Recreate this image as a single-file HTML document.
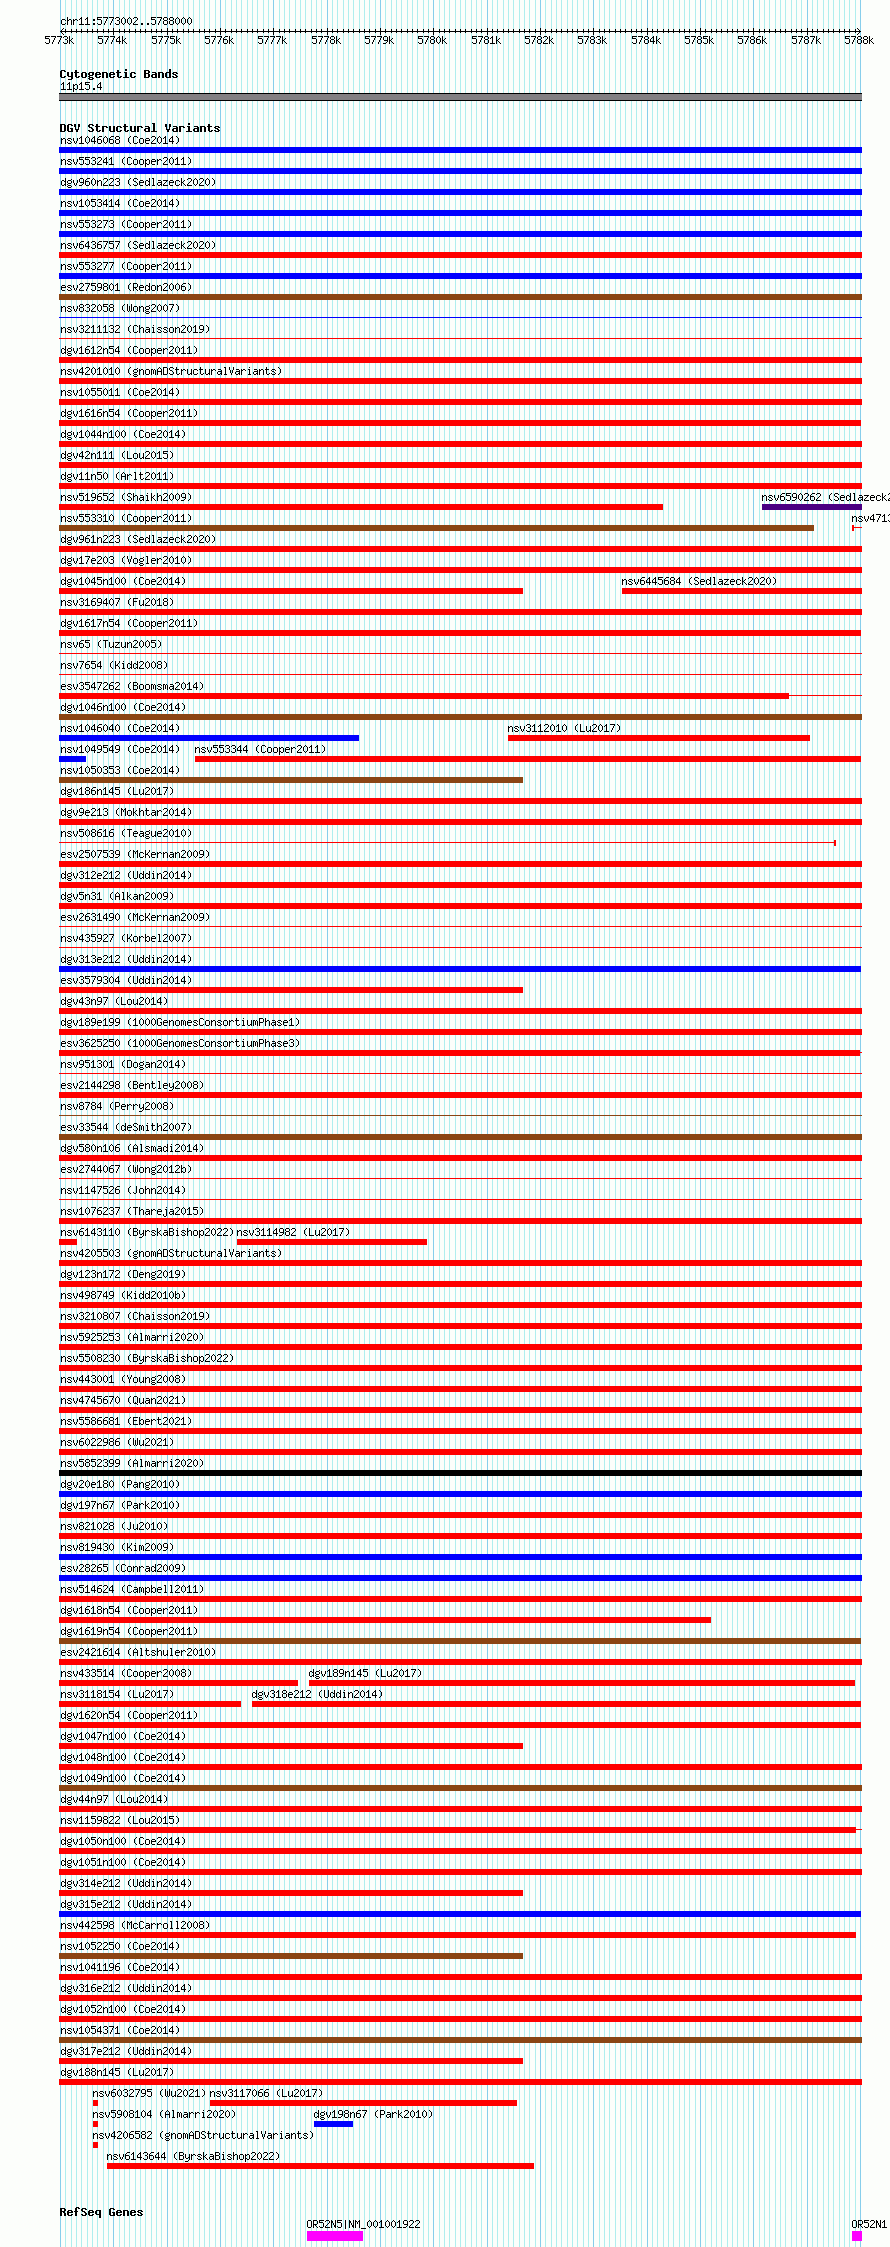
<!DOCTYPE html><html><head><meta charset="utf-8"><style>
html,body{margin:0;padding:0;background:#fcfefb;width:890px;height:2247px;overflow:hidden}
#c{position:relative;width:890px;height:2247px;overflow:hidden;background:#fcfefb}
#c div{position:absolute}
.g{top:0;width:1px;height:2247px;background:#afeeee}
.G{top:0;width:1px;height:2247px;background:#87ceeb}
.t{font-family:"Liberation Mono",monospace;font-size:12px;line-height:12px;letter-spacing:-1.2px;white-space:pre;color:#000;will-change:transform}
.b{font-family:"Liberation Mono",monospace;font-weight:bold;font-size:12px;line-height:12px;letter-spacing:-0.2px;white-space:pre;color:#000;will-change:transform}
</style></head><body><div id="c">
<div class="G" style="left:60px"></div>
<div class="g" style="left:65px"></div>
<div class="g" style="left:71px"></div>
<div class="g" style="left:76px"></div>
<div class="g" style="left:81px"></div>
<div class="g" style="left:87px"></div>
<div class="g" style="left:92px"></div>
<div class="g" style="left:97px"></div>
<div class="g" style="left:103px"></div>
<div class="g" style="left:108px"></div>
<div class="G" style="left:113px"></div>
<div class="g" style="left:119px"></div>
<div class="g" style="left:124px"></div>
<div class="g" style="left:129px"></div>
<div class="g" style="left:135px"></div>
<div class="g" style="left:140px"></div>
<div class="g" style="left:145px"></div>
<div class="g" style="left:151px"></div>
<div class="g" style="left:156px"></div>
<div class="g" style="left:161px"></div>
<div class="G" style="left:167px"></div>
<div class="g" style="left:172px"></div>
<div class="g" style="left:177px"></div>
<div class="g" style="left:183px"></div>
<div class="g" style="left:188px"></div>
<div class="g" style="left:193px"></div>
<div class="g" style="left:199px"></div>
<div class="g" style="left:204px"></div>
<div class="g" style="left:209px"></div>
<div class="g" style="left:215px"></div>
<div class="G" style="left:220px"></div>
<div class="g" style="left:225px"></div>
<div class="g" style="left:231px"></div>
<div class="g" style="left:236px"></div>
<div class="g" style="left:241px"></div>
<div class="g" style="left:247px"></div>
<div class="g" style="left:252px"></div>
<div class="g" style="left:257px"></div>
<div class="g" style="left:263px"></div>
<div class="g" style="left:268px"></div>
<div class="G" style="left:273px"></div>
<div class="g" style="left:279px"></div>
<div class="g" style="left:284px"></div>
<div class="g" style="left:289px"></div>
<div class="g" style="left:295px"></div>
<div class="g" style="left:300px"></div>
<div class="g" style="left:305px"></div>
<div class="g" style="left:311px"></div>
<div class="g" style="left:316px"></div>
<div class="g" style="left:321px"></div>
<div class="G" style="left:327px"></div>
<div class="g" style="left:332px"></div>
<div class="g" style="left:337px"></div>
<div class="g" style="left:343px"></div>
<div class="g" style="left:348px"></div>
<div class="g" style="left:353px"></div>
<div class="g" style="left:359px"></div>
<div class="g" style="left:364px"></div>
<div class="g" style="left:369px"></div>
<div class="g" style="left:375px"></div>
<div class="G" style="left:380px"></div>
<div class="g" style="left:385px"></div>
<div class="g" style="left:391px"></div>
<div class="g" style="left:396px"></div>
<div class="g" style="left:401px"></div>
<div class="g" style="left:407px"></div>
<div class="g" style="left:412px"></div>
<div class="g" style="left:417px"></div>
<div class="g" style="left:423px"></div>
<div class="g" style="left:428px"></div>
<div class="G" style="left:433px"></div>
<div class="g" style="left:439px"></div>
<div class="g" style="left:444px"></div>
<div class="g" style="left:449px"></div>
<div class="g" style="left:455px"></div>
<div class="g" style="left:460px"></div>
<div class="g" style="left:465px"></div>
<div class="g" style="left:471px"></div>
<div class="g" style="left:476px"></div>
<div class="g" style="left:481px"></div>
<div class="G" style="left:487px"></div>
<div class="g" style="left:492px"></div>
<div class="g" style="left:497px"></div>
<div class="g" style="left:503px"></div>
<div class="g" style="left:508px"></div>
<div class="g" style="left:513px"></div>
<div class="g" style="left:519px"></div>
<div class="g" style="left:524px"></div>
<div class="g" style="left:529px"></div>
<div class="g" style="left:535px"></div>
<div class="G" style="left:540px"></div>
<div class="g" style="left:545px"></div>
<div class="g" style="left:551px"></div>
<div class="g" style="left:556px"></div>
<div class="g" style="left:561px"></div>
<div class="g" style="left:567px"></div>
<div class="g" style="left:572px"></div>
<div class="g" style="left:577px"></div>
<div class="g" style="left:583px"></div>
<div class="g" style="left:588px"></div>
<div class="G" style="left:593px"></div>
<div class="g" style="left:599px"></div>
<div class="g" style="left:604px"></div>
<div class="g" style="left:609px"></div>
<div class="g" style="left:615px"></div>
<div class="g" style="left:620px"></div>
<div class="g" style="left:625px"></div>
<div class="g" style="left:631px"></div>
<div class="g" style="left:636px"></div>
<div class="g" style="left:641px"></div>
<div class="G" style="left:647px"></div>
<div class="g" style="left:652px"></div>
<div class="g" style="left:657px"></div>
<div class="g" style="left:663px"></div>
<div class="g" style="left:668px"></div>
<div class="g" style="left:673px"></div>
<div class="g" style="left:679px"></div>
<div class="g" style="left:684px"></div>
<div class="g" style="left:689px"></div>
<div class="g" style="left:695px"></div>
<div class="G" style="left:700px"></div>
<div class="g" style="left:705px"></div>
<div class="g" style="left:711px"></div>
<div class="g" style="left:716px"></div>
<div class="g" style="left:721px"></div>
<div class="g" style="left:727px"></div>
<div class="g" style="left:732px"></div>
<div class="g" style="left:737px"></div>
<div class="g" style="left:743px"></div>
<div class="g" style="left:748px"></div>
<div class="G" style="left:753px"></div>
<div class="g" style="left:759px"></div>
<div class="g" style="left:764px"></div>
<div class="g" style="left:769px"></div>
<div class="g" style="left:775px"></div>
<div class="g" style="left:780px"></div>
<div class="g" style="left:785px"></div>
<div class="g" style="left:791px"></div>
<div class="g" style="left:796px"></div>
<div class="g" style="left:801px"></div>
<div class="G" style="left:807px"></div>
<div class="g" style="left:812px"></div>
<div class="g" style="left:817px"></div>
<div class="g" style="left:823px"></div>
<div class="g" style="left:828px"></div>
<div class="g" style="left:833px"></div>
<div class="g" style="left:839px"></div>
<div class="g" style="left:844px"></div>
<div class="g" style="left:849px"></div>
<div class="g" style="left:855px"></div>
<div class="G" style="left:860px"></div>
<div style="left:60px;top:31px;width:801px;height:1px;background:#000"></div>
<div style="left:65px;top:29px;width:1px;height:4px;background:#000"></div>
<div style="left:71px;top:29px;width:1px;height:4px;background:#000"></div>
<div style="left:76px;top:29px;width:1px;height:4px;background:#000"></div>
<div style="left:81px;top:29px;width:1px;height:4px;background:#000"></div>
<div style="left:87px;top:29px;width:1px;height:4px;background:#000"></div>
<div style="left:92px;top:29px;width:1px;height:4px;background:#000"></div>
<div style="left:97px;top:29px;width:1px;height:4px;background:#000"></div>
<div style="left:103px;top:29px;width:1px;height:4px;background:#000"></div>
<div style="left:108px;top:29px;width:1px;height:4px;background:#000"></div>
<div style="left:113px;top:28px;width:1px;height:7px;background:#000"></div>
<div style="left:119px;top:29px;width:1px;height:4px;background:#000"></div>
<div style="left:124px;top:29px;width:1px;height:4px;background:#000"></div>
<div style="left:129px;top:29px;width:1px;height:4px;background:#000"></div>
<div style="left:135px;top:29px;width:1px;height:4px;background:#000"></div>
<div style="left:140px;top:29px;width:1px;height:4px;background:#000"></div>
<div style="left:145px;top:29px;width:1px;height:4px;background:#000"></div>
<div style="left:151px;top:29px;width:1px;height:4px;background:#000"></div>
<div style="left:156px;top:29px;width:1px;height:4px;background:#000"></div>
<div style="left:161px;top:29px;width:1px;height:4px;background:#000"></div>
<div style="left:167px;top:28px;width:1px;height:7px;background:#000"></div>
<div style="left:172px;top:29px;width:1px;height:4px;background:#000"></div>
<div style="left:177px;top:29px;width:1px;height:4px;background:#000"></div>
<div style="left:183px;top:29px;width:1px;height:4px;background:#000"></div>
<div style="left:188px;top:29px;width:1px;height:4px;background:#000"></div>
<div style="left:193px;top:29px;width:1px;height:4px;background:#000"></div>
<div style="left:199px;top:29px;width:1px;height:4px;background:#000"></div>
<div style="left:204px;top:29px;width:1px;height:4px;background:#000"></div>
<div style="left:209px;top:29px;width:1px;height:4px;background:#000"></div>
<div style="left:215px;top:29px;width:1px;height:4px;background:#000"></div>
<div style="left:220px;top:28px;width:1px;height:7px;background:#000"></div>
<div style="left:225px;top:29px;width:1px;height:4px;background:#000"></div>
<div style="left:231px;top:29px;width:1px;height:4px;background:#000"></div>
<div style="left:236px;top:29px;width:1px;height:4px;background:#000"></div>
<div style="left:241px;top:29px;width:1px;height:4px;background:#000"></div>
<div style="left:247px;top:29px;width:1px;height:4px;background:#000"></div>
<div style="left:252px;top:29px;width:1px;height:4px;background:#000"></div>
<div style="left:257px;top:29px;width:1px;height:4px;background:#000"></div>
<div style="left:263px;top:29px;width:1px;height:4px;background:#000"></div>
<div style="left:268px;top:29px;width:1px;height:4px;background:#000"></div>
<div style="left:273px;top:28px;width:1px;height:7px;background:#000"></div>
<div style="left:279px;top:29px;width:1px;height:4px;background:#000"></div>
<div style="left:284px;top:29px;width:1px;height:4px;background:#000"></div>
<div style="left:289px;top:29px;width:1px;height:4px;background:#000"></div>
<div style="left:295px;top:29px;width:1px;height:4px;background:#000"></div>
<div style="left:300px;top:29px;width:1px;height:4px;background:#000"></div>
<div style="left:305px;top:29px;width:1px;height:4px;background:#000"></div>
<div style="left:311px;top:29px;width:1px;height:4px;background:#000"></div>
<div style="left:316px;top:29px;width:1px;height:4px;background:#000"></div>
<div style="left:321px;top:29px;width:1px;height:4px;background:#000"></div>
<div style="left:327px;top:28px;width:1px;height:7px;background:#000"></div>
<div style="left:332px;top:29px;width:1px;height:4px;background:#000"></div>
<div style="left:337px;top:29px;width:1px;height:4px;background:#000"></div>
<div style="left:343px;top:29px;width:1px;height:4px;background:#000"></div>
<div style="left:348px;top:29px;width:1px;height:4px;background:#000"></div>
<div style="left:353px;top:29px;width:1px;height:4px;background:#000"></div>
<div style="left:359px;top:29px;width:1px;height:4px;background:#000"></div>
<div style="left:364px;top:29px;width:1px;height:4px;background:#000"></div>
<div style="left:369px;top:29px;width:1px;height:4px;background:#000"></div>
<div style="left:375px;top:29px;width:1px;height:4px;background:#000"></div>
<div style="left:380px;top:28px;width:1px;height:7px;background:#000"></div>
<div style="left:385px;top:29px;width:1px;height:4px;background:#000"></div>
<div style="left:391px;top:29px;width:1px;height:4px;background:#000"></div>
<div style="left:396px;top:29px;width:1px;height:4px;background:#000"></div>
<div style="left:401px;top:29px;width:1px;height:4px;background:#000"></div>
<div style="left:407px;top:29px;width:1px;height:4px;background:#000"></div>
<div style="left:412px;top:29px;width:1px;height:4px;background:#000"></div>
<div style="left:417px;top:29px;width:1px;height:4px;background:#000"></div>
<div style="left:423px;top:29px;width:1px;height:4px;background:#000"></div>
<div style="left:428px;top:29px;width:1px;height:4px;background:#000"></div>
<div style="left:433px;top:28px;width:1px;height:7px;background:#000"></div>
<div style="left:439px;top:29px;width:1px;height:4px;background:#000"></div>
<div style="left:444px;top:29px;width:1px;height:4px;background:#000"></div>
<div style="left:449px;top:29px;width:1px;height:4px;background:#000"></div>
<div style="left:455px;top:29px;width:1px;height:4px;background:#000"></div>
<div style="left:460px;top:29px;width:1px;height:4px;background:#000"></div>
<div style="left:465px;top:29px;width:1px;height:4px;background:#000"></div>
<div style="left:471px;top:29px;width:1px;height:4px;background:#000"></div>
<div style="left:476px;top:29px;width:1px;height:4px;background:#000"></div>
<div style="left:481px;top:29px;width:1px;height:4px;background:#000"></div>
<div style="left:487px;top:28px;width:1px;height:7px;background:#000"></div>
<div style="left:492px;top:29px;width:1px;height:4px;background:#000"></div>
<div style="left:497px;top:29px;width:1px;height:4px;background:#000"></div>
<div style="left:503px;top:29px;width:1px;height:4px;background:#000"></div>
<div style="left:508px;top:29px;width:1px;height:4px;background:#000"></div>
<div style="left:513px;top:29px;width:1px;height:4px;background:#000"></div>
<div style="left:519px;top:29px;width:1px;height:4px;background:#000"></div>
<div style="left:524px;top:29px;width:1px;height:4px;background:#000"></div>
<div style="left:529px;top:29px;width:1px;height:4px;background:#000"></div>
<div style="left:535px;top:29px;width:1px;height:4px;background:#000"></div>
<div style="left:540px;top:28px;width:1px;height:7px;background:#000"></div>
<div style="left:545px;top:29px;width:1px;height:4px;background:#000"></div>
<div style="left:551px;top:29px;width:1px;height:4px;background:#000"></div>
<div style="left:556px;top:29px;width:1px;height:4px;background:#000"></div>
<div style="left:561px;top:29px;width:1px;height:4px;background:#000"></div>
<div style="left:567px;top:29px;width:1px;height:4px;background:#000"></div>
<div style="left:572px;top:29px;width:1px;height:4px;background:#000"></div>
<div style="left:577px;top:29px;width:1px;height:4px;background:#000"></div>
<div style="left:583px;top:29px;width:1px;height:4px;background:#000"></div>
<div style="left:588px;top:29px;width:1px;height:4px;background:#000"></div>
<div style="left:593px;top:28px;width:1px;height:7px;background:#000"></div>
<div style="left:599px;top:29px;width:1px;height:4px;background:#000"></div>
<div style="left:604px;top:29px;width:1px;height:4px;background:#000"></div>
<div style="left:609px;top:29px;width:1px;height:4px;background:#000"></div>
<div style="left:615px;top:29px;width:1px;height:4px;background:#000"></div>
<div style="left:620px;top:29px;width:1px;height:4px;background:#000"></div>
<div style="left:625px;top:29px;width:1px;height:4px;background:#000"></div>
<div style="left:631px;top:29px;width:1px;height:4px;background:#000"></div>
<div style="left:636px;top:29px;width:1px;height:4px;background:#000"></div>
<div style="left:641px;top:29px;width:1px;height:4px;background:#000"></div>
<div style="left:647px;top:28px;width:1px;height:7px;background:#000"></div>
<div style="left:652px;top:29px;width:1px;height:4px;background:#000"></div>
<div style="left:657px;top:29px;width:1px;height:4px;background:#000"></div>
<div style="left:663px;top:29px;width:1px;height:4px;background:#000"></div>
<div style="left:668px;top:29px;width:1px;height:4px;background:#000"></div>
<div style="left:673px;top:29px;width:1px;height:4px;background:#000"></div>
<div style="left:679px;top:29px;width:1px;height:4px;background:#000"></div>
<div style="left:684px;top:29px;width:1px;height:4px;background:#000"></div>
<div style="left:689px;top:29px;width:1px;height:4px;background:#000"></div>
<div style="left:695px;top:29px;width:1px;height:4px;background:#000"></div>
<div style="left:700px;top:28px;width:1px;height:7px;background:#000"></div>
<div style="left:705px;top:29px;width:1px;height:4px;background:#000"></div>
<div style="left:711px;top:29px;width:1px;height:4px;background:#000"></div>
<div style="left:716px;top:29px;width:1px;height:4px;background:#000"></div>
<div style="left:721px;top:29px;width:1px;height:4px;background:#000"></div>
<div style="left:727px;top:29px;width:1px;height:4px;background:#000"></div>
<div style="left:732px;top:29px;width:1px;height:4px;background:#000"></div>
<div style="left:737px;top:29px;width:1px;height:4px;background:#000"></div>
<div style="left:743px;top:29px;width:1px;height:4px;background:#000"></div>
<div style="left:748px;top:29px;width:1px;height:4px;background:#000"></div>
<div style="left:753px;top:28px;width:1px;height:7px;background:#000"></div>
<div style="left:759px;top:29px;width:1px;height:4px;background:#000"></div>
<div style="left:764px;top:29px;width:1px;height:4px;background:#000"></div>
<div style="left:769px;top:29px;width:1px;height:4px;background:#000"></div>
<div style="left:775px;top:29px;width:1px;height:4px;background:#000"></div>
<div style="left:780px;top:29px;width:1px;height:4px;background:#000"></div>
<div style="left:785px;top:29px;width:1px;height:4px;background:#000"></div>
<div style="left:791px;top:29px;width:1px;height:4px;background:#000"></div>
<div style="left:796px;top:29px;width:1px;height:4px;background:#000"></div>
<div style="left:801px;top:29px;width:1px;height:4px;background:#000"></div>
<div style="left:807px;top:28px;width:1px;height:7px;background:#000"></div>
<div style="left:812px;top:29px;width:1px;height:4px;background:#000"></div>
<div style="left:817px;top:29px;width:1px;height:4px;background:#000"></div>
<div style="left:823px;top:29px;width:1px;height:4px;background:#000"></div>
<div style="left:828px;top:29px;width:1px;height:4px;background:#000"></div>
<div style="left:833px;top:29px;width:1px;height:4px;background:#000"></div>
<div style="left:839px;top:29px;width:1px;height:4px;background:#000"></div>
<div style="left:844px;top:29px;width:1px;height:4px;background:#000"></div>
<div style="left:849px;top:29px;width:1px;height:4px;background:#000"></div>
<div style="left:855px;top:29px;width:1px;height:4px;background:#000"></div>
<div style="left:61px;top:30px;width:1px;height:1px;background:#000"></div>
<div style="left:62px;top:29px;width:1px;height:1px;background:#000"></div>
<div style="left:63px;top:28px;width:1px;height:1px;background:#000"></div>
<div style="left:61px;top:32px;width:1px;height:1px;background:#000"></div>
<div style="left:62px;top:33px;width:1px;height:1px;background:#000"></div>
<div style="left:63px;top:34px;width:1px;height:1px;background:#000"></div>
<div style="left:859px;top:30px;width:1px;height:1px;background:#000"></div>
<div style="left:858px;top:29px;width:1px;height:1px;background:#000"></div>
<div style="left:857px;top:28px;width:1px;height:1px;background:#000"></div>
<div style="left:859px;top:32px;width:1px;height:1px;background:#000"></div>
<div style="left:858px;top:33px;width:1px;height:1px;background:#000"></div>
<div style="left:857px;top:34px;width:1px;height:1px;background:#000"></div>
<div style="left:59px;top:93px;width:803px;height:8px;background:#000"></div>
<div style="left:59px;top:94px;width:803px;height:6px;background:#838083"></div>
<div style="left:59px;top:147px;width:803px;height:6px;background:#0000ff"></div>
<div style="left:59px;top:168px;width:803px;height:6px;background:#0000ff"></div>
<div style="left:59px;top:189px;width:803px;height:6px;background:#0000ff"></div>
<div style="left:59px;top:210px;width:803px;height:6px;background:#0000ff"></div>
<div style="left:59px;top:231px;width:803px;height:6px;background:#0000ff"></div>
<div style="left:59px;top:252px;width:803px;height:6px;background:#ff0000"></div>
<div style="left:59px;top:273px;width:803px;height:6px;background:#0000ff"></div>
<div style="left:59px;top:294px;width:803px;height:6px;background:#8b4513"></div>
<div style="left:59px;top:317px;width:803px;height:1px;background:#0000ff"></div>
<div style="left:59px;top:338px;width:803px;height:1px;background:#ff0000"></div>
<div style="left:59px;top:357px;width:803px;height:6px;background:#ff0000"></div>
<div style="left:59px;top:378px;width:803px;height:6px;background:#ff0000"></div>
<div style="left:59px;top:399px;width:803px;height:6px;background:#ff0000"></div>
<div style="left:59px;top:420px;width:802px;height:6px;background:#ff0000"></div>
<div style="left:59px;top:441px;width:803px;height:6px;background:#ff0000"></div>
<div style="left:59px;top:462px;width:803px;height:6px;background:#ff0000"></div>
<div style="left:59px;top:483px;width:803px;height:6px;background:#ff0000"></div>
<div style="left:59px;top:504px;width:604px;height:6px;background:#ff0000"></div>
<div style="left:762px;top:504px;width:100px;height:6px;background:#4b0082"></div>
<div style="left:59px;top:525px;width:755px;height:6px;background:#8b4513"></div>
<div style="left:852px;top:525px;width:2px;height:6px;background:#ff0000"></div>
<div style="left:854px;top:527px;width:8px;height:1px;background:#ff0000"></div>
<div style="left:59px;top:546px;width:803px;height:6px;background:#ff0000"></div>
<div style="left:59px;top:567px;width:803px;height:6px;background:#ff0000"></div>
<div style="left:59px;top:588px;width:464px;height:6px;background:#ff0000"></div>
<div style="left:622px;top:588px;width:240px;height:6px;background:#ff0000"></div>
<div style="left:59px;top:609px;width:803px;height:6px;background:#ff0000"></div>
<div style="left:59px;top:630px;width:802px;height:6px;background:#ff0000"></div>
<div style="left:59px;top:653px;width:803px;height:1px;background:#ff0000"></div>
<div style="left:59px;top:674px;width:803px;height:1px;background:#ff0000"></div>
<div style="left:59px;top:693px;width:730px;height:6px;background:#ff0000"></div>
<div style="left:789px;top:695px;width:73px;height:1px;background:#ff0000"></div>
<div style="left:59px;top:714px;width:803px;height:6px;background:#8b4513"></div>
<div style="left:59px;top:735px;width:300px;height:6px;background:#0000ff"></div>
<div style="left:508px;top:735px;width:302px;height:6px;background:#ff0000"></div>
<div style="left:59px;top:756px;width:27px;height:6px;background:#0000ff"></div>
<div style="left:195px;top:756px;width:666px;height:6px;background:#ff0000"></div>
<div style="left:59px;top:777px;width:464px;height:6px;background:#8b4513"></div>
<div style="left:59px;top:798px;width:803px;height:6px;background:#ff0000"></div>
<div style="left:59px;top:819px;width:803px;height:6px;background:#ff0000"></div>
<div style="left:59px;top:842px;width:775px;height:1px;background:#ff0000"></div>
<div style="left:834px;top:840px;width:2px;height:6px;background:#ff0000"></div>
<div style="left:59px;top:861px;width:803px;height:6px;background:#ff0000"></div>
<div style="left:59px;top:882px;width:803px;height:6px;background:#ff0000"></div>
<div style="left:59px;top:903px;width:803px;height:6px;background:#ff0000"></div>
<div style="left:59px;top:926px;width:803px;height:1px;background:#ff0000"></div>
<div style="left:59px;top:947px;width:803px;height:1px;background:#ff0000"></div>
<div style="left:59px;top:966px;width:802px;height:6px;background:#0000ff"></div>
<div style="left:59px;top:987px;width:464px;height:6px;background:#ff0000"></div>
<div style="left:59px;top:1008px;width:803px;height:6px;background:#ff0000"></div>
<div style="left:59px;top:1029px;width:803px;height:6px;background:#ff0000"></div>
<div style="left:59px;top:1050px;width:801px;height:6px;background:#ff0000"></div>
<div style="left:860px;top:1052px;width:2px;height:1px;background:#ff0000"></div>
<div style="left:59px;top:1073px;width:803px;height:1px;background:#ff0000"></div>
<div style="left:59px;top:1092px;width:803px;height:6px;background:#ff0000"></div>
<div style="left:59px;top:1115px;width:803px;height:1px;background:#8b4513"></div>
<div style="left:59px;top:1134px;width:803px;height:6px;background:#8b4513"></div>
<div style="left:59px;top:1155px;width:803px;height:6px;background:#ff0000"></div>
<div style="left:59px;top:1178px;width:803px;height:1px;background:#ff0000"></div>
<div style="left:59px;top:1199px;width:803px;height:1px;background:#ff0000"></div>
<div style="left:59px;top:1218px;width:803px;height:6px;background:#ff0000"></div>
<div style="left:59px;top:1239px;width:18px;height:6px;background:#ff0000"></div>
<div style="left:237px;top:1239px;width:190px;height:6px;background:#ff0000"></div>
<div style="left:59px;top:1260px;width:803px;height:6px;background:#ff0000"></div>
<div style="left:59px;top:1281px;width:803px;height:6px;background:#ff0000"></div>
<div style="left:59px;top:1302px;width:803px;height:6px;background:#ff0000"></div>
<div style="left:59px;top:1323px;width:803px;height:6px;background:#ff0000"></div>
<div style="left:59px;top:1344px;width:803px;height:6px;background:#ff0000"></div>
<div style="left:59px;top:1365px;width:803px;height:6px;background:#ff0000"></div>
<div style="left:59px;top:1386px;width:803px;height:6px;background:#ff0000"></div>
<div style="left:59px;top:1407px;width:803px;height:6px;background:#ff0000"></div>
<div style="left:59px;top:1428px;width:803px;height:6px;background:#ff0000"></div>
<div style="left:59px;top:1449px;width:803px;height:6px;background:#ff0000"></div>
<div style="left:59px;top:1470px;width:803px;height:6px;background:#000000"></div>
<div style="left:59px;top:1491px;width:803px;height:6px;background:#0000ff"></div>
<div style="left:59px;top:1512px;width:803px;height:6px;background:#ff0000"></div>
<div style="left:59px;top:1533px;width:803px;height:6px;background:#ff0000"></div>
<div style="left:59px;top:1554px;width:803px;height:6px;background:#0000ff"></div>
<div style="left:59px;top:1575px;width:803px;height:6px;background:#0000ff"></div>
<div style="left:59px;top:1596px;width:803px;height:6px;background:#ff0000"></div>
<div style="left:59px;top:1617px;width:652px;height:6px;background:#ff0000"></div>
<div style="left:59px;top:1638px;width:802px;height:6px;background:#8b4513"></div>
<div style="left:59px;top:1659px;width:803px;height:6px;background:#ff0000"></div>
<div style="left:59px;top:1680px;width:239px;height:6px;background:#ff0000"></div>
<div style="left:309px;top:1680px;width:546px;height:6px;background:#ff0000"></div>
<div style="left:59px;top:1701px;width:182px;height:6px;background:#ff0000"></div>
<div style="left:252px;top:1701px;width:609px;height:6px;background:#ff0000"></div>
<div style="left:59px;top:1722px;width:802px;height:6px;background:#ff0000"></div>
<div style="left:59px;top:1743px;width:464px;height:6px;background:#ff0000"></div>
<div style="left:59px;top:1764px;width:803px;height:6px;background:#ff0000"></div>
<div style="left:59px;top:1785px;width:803px;height:6px;background:#8b4513"></div>
<div style="left:59px;top:1806px;width:803px;height:6px;background:#ff0000"></div>
<div style="left:59px;top:1827px;width:797px;height:6px;background:#ff0000"></div>
<div style="left:856px;top:1829px;width:6px;height:1px;background:#ff0000"></div>
<div style="left:59px;top:1848px;width:803px;height:6px;background:#ff0000"></div>
<div style="left:59px;top:1869px;width:803px;height:6px;background:#ff0000"></div>
<div style="left:59px;top:1890px;width:464px;height:6px;background:#ff0000"></div>
<div style="left:59px;top:1911px;width:802px;height:6px;background:#0000ff"></div>
<div style="left:59px;top:1932px;width:797px;height:6px;background:#ff0000"></div>
<div style="left:59px;top:1953px;width:464px;height:6px;background:#8b4513"></div>
<div style="left:59px;top:1974px;width:803px;height:6px;background:#ff0000"></div>
<div style="left:59px;top:1995px;width:803px;height:6px;background:#ff0000"></div>
<div style="left:59px;top:2016px;width:803px;height:6px;background:#ff0000"></div>
<div style="left:59px;top:2037px;width:803px;height:6px;background:#8b4513"></div>
<div style="left:59px;top:2058px;width:464px;height:6px;background:#ff0000"></div>
<div style="left:59px;top:2079px;width:803px;height:6px;background:#ff0000"></div>
<div style="left:93px;top:2100px;width:5px;height:6px;background:#ff0000"></div>
<div style="left:210px;top:2100px;width:307px;height:6px;background:#ff0000"></div>
<div style="left:93px;top:2121px;width:5px;height:6px;background:#ff0000"></div>
<div style="left:314px;top:2121px;width:39px;height:6px;background:#0000ff"></div>
<div style="left:93px;top:2142px;width:5px;height:6px;background:#ff0000"></div>
<div style="left:107px;top:2163px;width:427px;height:6px;background:#ff0000"></div>
<div style="left:307px;top:2231px;width:56px;height:10px;background:#ff00ff"></div>
<div style="left:852px;top:2231px;width:10px;height:10px;background:#ff00ff"></div>
<svg style="position:absolute;left:0;top:0" width="890" height="2247" shape-rendering="crispEdges"><defs><path id="b66" d="M0 0h5v1h-5zM0 1h2v1h-2zM4 1h2v1h-2zM0 2h2v1h-2zM4 2h2v1h-2zM0 3h5v1h-5zM0 4h2v1h-2zM4 4h2v1h-2zM0 5h2v1h-2zM4 5h2v1h-2zM0 6h2v1h-2zM4 6h2v1h-2zM0 7h5v1h-5z"/><path id="b67" d="M1 0h4v1h-4zM0 1h2v1h-2zM4 1h2v1h-2zM0 2h2v1h-2zM0 3h2v1h-2zM0 4h2v1h-2zM0 5h2v1h-2zM0 6h2v1h-2zM4 6h2v1h-2zM1 7h4v1h-4z"/><path id="b68" d="M0 0h5v1h-5zM0 1h2v1h-2zM4 1h2v1h-2zM0 2h2v1h-2zM4 2h2v1h-2zM0 3h2v1h-2zM4 3h2v1h-2zM0 4h2v1h-2zM4 4h2v1h-2zM0 5h2v1h-2zM4 5h2v1h-2zM0 6h2v1h-2zM4 6h2v1h-2zM0 7h5v1h-5z"/><path id="b71" d="M1 0h4v1h-4zM0 1h2v1h-2zM4 1h2v1h-2zM0 2h2v1h-2zM0 3h2v1h-2zM0 4h2v1h-2zM3 4h3v1h-3zM0 5h2v1h-2zM4 5h2v1h-2zM0 6h2v1h-2zM4 6h2v1h-2zM1 7h5v1h-5z"/><path id="b82" d="M0 0h5v1h-5zM0 1h2v1h-2zM4 1h2v1h-2zM0 2h2v1h-2zM4 2h2v1h-2zM0 3h5v1h-5zM0 4h2v1h-2zM3 4h2v1h-2zM0 5h2v1h-2zM4 5h2v1h-2zM0 6h2v1h-2zM4 6h2v1h-2zM0 7h2v1h-2zM4 7h2v1h-2z"/><path id="b83" d="M1 0h4v1h-4zM0 1h2v1h-2zM4 1h2v1h-2zM0 2h2v1h-2zM1 3h3v1h-3zM3 4h2v1h-2zM4 5h2v1h-2zM0 6h2v1h-2zM4 6h2v1h-2zM1 7h4v1h-4z"/><path id="b86" d="M0 0h2v1h-2zM4 0h2v1h-2zM0 1h2v1h-2zM4 1h2v1h-2zM0 2h2v1h-2zM4 2h2v1h-2zM1 3h1v1h-1zM4 3h1v1h-1zM1 4h1v1h-1zM4 4h1v1h-1zM1 5h4v1h-4zM2 6h2v1h-2zM2 7h2v1h-2z"/><path id="b97" d="M1 2h4v1h-4zM4 3h2v1h-2zM1 4h5v1h-5zM0 5h2v1h-2zM4 5h2v1h-2zM0 6h2v1h-2zM4 6h2v1h-2zM1 7h5v1h-5z"/><path id="b99" d="M1 2h4v1h-4zM0 3h2v1h-2zM4 3h2v1h-2zM0 4h2v1h-2zM0 5h2v1h-2zM0 6h2v1h-2zM4 6h2v1h-2zM1 7h4v1h-4z"/><path id="b100" d="M4 -1h2v1h-2zM4 0h2v1h-2zM4 1h2v1h-2zM1 2h5v1h-5zM0 3h2v1h-2zM4 3h2v1h-2zM0 4h2v1h-2zM4 4h2v1h-2zM0 5h2v1h-2zM4 5h2v1h-2zM0 6h2v1h-2zM4 6h2v1h-2zM1 7h5v1h-5z"/><path id="b101" d="M1 2h4v1h-4zM0 3h2v1h-2zM4 3h2v1h-2zM0 4h6v1h-6zM0 5h2v1h-2zM0 6h2v1h-2zM4 6h2v1h-2zM1 7h4v1h-4z"/><path id="b102" d="M2 -1h3v1h-3zM1 0h2v1h-2zM4 0h2v1h-2zM1 1h2v1h-2zM1 2h2v1h-2zM0 3h4v1h-4zM1 4h2v1h-2zM1 5h2v1h-2zM1 6h2v1h-2zM1 7h2v1h-2z"/><path id="b103" d="M1 2h5v1h-5zM0 3h2v1h-2zM4 3h2v1h-2zM0 4h2v1h-2zM4 4h2v1h-2zM1 5h4v1h-4zM0 6h2v1h-2zM1 7h4v1h-4zM0 8h2v1h-2zM4 8h2v1h-2zM1 9h4v1h-4z"/><path id="b105" d="M2 -1h2v1h-2zM2 0h2v1h-2zM1 2h3v1h-3zM2 3h2v1h-2zM2 4h2v1h-2zM2 5h2v1h-2zM2 6h2v1h-2zM0 7h6v1h-6z"/><path id="b108" d="M1 -1h3v1h-3zM2 0h2v1h-2zM2 1h2v1h-2zM2 2h2v1h-2zM2 3h2v1h-2zM2 4h2v1h-2zM2 5h2v1h-2zM2 6h2v1h-2zM0 7h6v1h-6z"/><path id="b110" d="M0 2h5v1h-5zM0 3h2v1h-2zM4 3h2v1h-2zM0 4h2v1h-2zM4 4h2v1h-2zM0 5h2v1h-2zM4 5h2v1h-2zM0 6h2v1h-2zM4 6h2v1h-2zM0 7h2v1h-2zM4 7h2v1h-2z"/><path id="b111" d="M1 2h4v1h-4zM0 3h2v1h-2zM4 3h2v1h-2zM0 4h2v1h-2zM4 4h2v1h-2zM0 5h2v1h-2zM4 5h2v1h-2zM0 6h2v1h-2zM4 6h2v1h-2zM1 7h4v1h-4z"/><path id="b113" d="M1 2h5v1h-5zM0 3h2v1h-2zM4 3h2v1h-2zM0 4h2v1h-2zM4 4h2v1h-2zM0 5h2v1h-2zM4 5h2v1h-2zM1 6h5v1h-5zM4 7h2v1h-2zM4 8h2v1h-2zM4 9h2v1h-2z"/><path id="b114" d="M0 2h5v1h-5zM0 3h2v1h-2zM4 3h2v1h-2zM0 4h2v1h-2zM0 5h2v1h-2zM0 6h2v1h-2zM0 7h2v1h-2z"/><path id="b115" d="M1 2h4v1h-4zM0 3h2v1h-2zM4 3h2v1h-2zM1 4h3v1h-3zM3 5h2v1h-2zM0 6h2v1h-2zM4 6h2v1h-2zM1 7h4v1h-4z"/><path id="b116" d="M1 0h2v1h-2zM1 1h2v1h-2zM0 2h5v1h-5zM1 3h2v1h-2zM1 4h2v1h-2zM1 5h2v1h-2zM1 6h2v1h-2zM4 6h2v1h-2zM2 7h3v1h-3z"/><path id="b117" d="M0 2h2v1h-2zM4 2h2v1h-2zM0 3h2v1h-2zM4 3h2v1h-2zM0 4h2v1h-2zM4 4h2v1h-2zM0 5h2v1h-2zM4 5h2v1h-2zM0 6h2v1h-2zM4 6h2v1h-2zM1 7h5v1h-5z"/><path id="b121" d="M0 2h2v1h-2zM4 2h2v1h-2zM0 3h2v1h-2zM4 3h2v1h-2zM0 4h2v1h-2zM4 4h2v1h-2zM0 5h2v1h-2zM4 5h2v1h-2zM1 6h5v1h-5zM4 7h2v1h-2zM4 8h2v1h-2zM1 9h4v1h-4z"/><path id="r40" d="M4 0h1v1h-1zM3 1h1v1h-1zM2 2h1v1h-1zM2 3h1v1h-1zM2 4h1v1h-1zM2 5h1v1h-1zM3 6h1v1h-1zM4 7h1v1h-1z"/><path id="r41" d="M2 0h1v1h-1zM3 1h1v1h-1zM4 2h1v1h-1zM4 3h1v1h-1zM4 4h1v1h-1zM4 5h1v1h-1zM3 6h1v1h-1zM2 7h1v1h-1z"/><path id="r46" d="M3 6h2v1h-2zM3 7h2v1h-2z"/><path id="r48" d="M3 0h1v1h-1zM2 1h1v1h-1zM4 1h1v1h-1zM1 2h1v1h-1zM5 2h1v1h-1zM1 3h1v1h-1zM5 3h1v1h-1zM1 4h1v1h-1zM5 4h1v1h-1zM1 5h1v1h-1zM5 5h1v1h-1zM2 6h1v1h-1zM4 6h1v1h-1zM3 7h1v1h-1z"/><path id="r49" d="M3 0h1v1h-1zM2 1h2v1h-2zM1 2h1v1h-1zM3 2h1v1h-1zM3 3h1v1h-1zM3 4h1v1h-1zM3 5h1v1h-1zM3 6h1v1h-1zM1 7h5v1h-5z"/><path id="r50" d="M2 0h3v1h-3zM1 1h1v1h-1zM5 1h1v1h-1zM5 2h1v1h-1zM4 3h1v1h-1zM3 4h1v1h-1zM2 5h1v1h-1zM1 6h1v1h-1zM1 7h5v1h-5z"/><path id="r51" d="M2 0h3v1h-3zM1 1h1v1h-1zM5 1h1v1h-1zM5 2h1v1h-1zM3 3h2v1h-2zM5 4h1v1h-1zM5 5h1v1h-1zM1 6h1v1h-1zM5 6h1v1h-1zM2 7h3v1h-3z"/><path id="r52" d="M4 0h1v1h-1zM3 1h2v1h-2zM2 2h1v1h-1zM4 2h1v1h-1zM1 3h1v1h-1zM4 3h1v1h-1zM1 4h1v1h-1zM4 4h1v1h-1zM1 5h5v1h-5zM4 6h1v1h-1zM4 7h1v1h-1z"/><path id="r53" d="M1 0h5v1h-5zM1 1h1v1h-1zM1 2h4v1h-4zM5 3h1v1h-1zM5 4h1v1h-1zM5 5h1v1h-1zM1 6h1v1h-1zM5 6h1v1h-1zM2 7h3v1h-3z"/><path id="r54" d="M3 0h3v1h-3zM2 1h1v1h-1zM1 2h1v1h-1zM1 3h4v1h-4zM1 4h1v1h-1zM5 4h1v1h-1zM1 5h1v1h-1zM5 5h1v1h-1zM1 6h1v1h-1zM5 6h1v1h-1zM2 7h3v1h-3z"/><path id="r55" d="M1 0h5v1h-5zM5 1h1v1h-1zM4 2h1v1h-1zM4 3h1v1h-1zM3 4h1v1h-1zM3 5h1v1h-1zM2 6h1v1h-1zM2 7h1v1h-1z"/><path id="r56" d="M2 0h3v1h-3zM1 1h1v1h-1zM5 1h1v1h-1zM1 2h1v1h-1zM5 2h1v1h-1zM2 3h3v1h-3zM1 4h1v1h-1zM5 4h1v1h-1zM1 5h1v1h-1zM5 5h1v1h-1zM1 6h1v1h-1zM5 6h1v1h-1zM2 7h3v1h-3z"/><path id="r57" d="M2 0h3v1h-3zM1 1h1v1h-1zM5 1h1v1h-1zM1 2h1v1h-1zM5 2h1v1h-1zM1 3h1v1h-1zM5 3h1v1h-1zM2 4h4v1h-4zM5 5h1v1h-1zM4 6h1v1h-1zM1 7h3v1h-3z"/><path id="r58" d="M3 2h2v1h-2zM3 3h2v1h-2zM3 6h2v1h-2zM3 7h2v1h-2z"/><path id="r65" d="M3 0h1v1h-1zM2 1h1v1h-1zM4 1h1v1h-1zM1 2h1v1h-1zM5 2h1v1h-1zM1 3h1v1h-1zM5 3h1v1h-1zM1 4h5v1h-5zM1 5h1v1h-1zM5 5h1v1h-1zM1 6h1v1h-1zM5 6h1v1h-1zM1 7h1v1h-1zM5 7h1v1h-1z"/><path id="r66" d="M1 0h4v1h-4zM1 1h1v1h-1zM5 1h1v1h-1zM1 2h1v1h-1zM5 2h1v1h-1zM1 3h4v1h-4zM1 4h1v1h-1zM5 4h1v1h-1zM1 5h1v1h-1zM5 5h1v1h-1zM1 6h1v1h-1zM5 6h1v1h-1zM1 7h4v1h-4z"/><path id="r67" d="M2 0h3v1h-3zM1 1h1v1h-1zM5 1h1v1h-1zM1 2h1v1h-1zM1 3h1v1h-1zM1 4h1v1h-1zM1 5h1v1h-1zM1 6h1v1h-1zM5 6h1v1h-1zM2 7h3v1h-3z"/><path id="r68" d="M1 0h4v1h-4zM1 1h1v1h-1zM5 1h1v1h-1zM1 2h1v1h-1zM5 2h1v1h-1zM1 3h1v1h-1zM5 3h1v1h-1zM1 4h1v1h-1zM5 4h1v1h-1zM1 5h1v1h-1zM5 5h1v1h-1zM1 6h1v1h-1zM5 6h1v1h-1zM1 7h4v1h-4z"/><path id="r69" d="M1 0h5v1h-5zM1 1h1v1h-1zM1 2h1v1h-1zM1 3h4v1h-4zM1 4h1v1h-1zM1 5h1v1h-1zM1 6h1v1h-1zM1 7h5v1h-5z"/><path id="r70" d="M1 0h5v1h-5zM1 1h1v1h-1zM1 2h1v1h-1zM1 3h4v1h-4zM1 4h1v1h-1zM1 5h1v1h-1zM1 6h1v1h-1zM1 7h1v1h-1z"/><path id="r71" d="M2 0h3v1h-3zM1 1h1v1h-1zM5 1h1v1h-1zM1 2h1v1h-1zM1 3h1v1h-1zM1 4h1v1h-1zM4 4h2v1h-2zM1 5h1v1h-1zM5 5h1v1h-1zM1 6h1v1h-1zM5 6h1v1h-1zM2 7h3v1h-3z"/><path id="r74" d="M4 0h1v1h-1zM4 1h1v1h-1zM4 2h1v1h-1zM4 3h1v1h-1zM4 4h1v1h-1zM4 5h1v1h-1zM1 6h1v1h-1zM4 6h1v1h-1zM2 7h2v1h-2z"/><path id="r75" d="M1 0h1v1h-1zM5 0h1v1h-1zM1 1h1v1h-1zM5 1h1v1h-1zM1 2h1v1h-1zM4 2h1v1h-1zM1 3h1v1h-1zM3 3h1v1h-1zM1 4h3v1h-3zM1 5h1v1h-1zM4 5h1v1h-1zM1 6h1v1h-1zM5 6h1v1h-1zM1 7h1v1h-1zM5 7h1v1h-1z"/><path id="r76" d="M1 0h1v1h-1zM1 1h1v1h-1zM1 2h1v1h-1zM1 3h1v1h-1zM1 4h1v1h-1zM1 5h1v1h-1zM1 6h1v1h-1zM1 7h5v1h-5z"/><path id="r77" d="M1 0h1v1h-1zM5 0h1v1h-1zM1 1h2v1h-2zM4 1h2v1h-2zM1 2h1v1h-1zM3 2h1v1h-1zM5 2h1v1h-1zM1 3h1v1h-1zM3 3h1v1h-1zM5 3h1v1h-1zM1 4h1v1h-1zM5 4h1v1h-1zM1 5h1v1h-1zM5 5h1v1h-1zM1 6h1v1h-1zM5 6h1v1h-1zM1 7h1v1h-1zM5 7h1v1h-1z"/><path id="r78" d="M1 0h1v1h-1zM5 0h1v1h-1zM1 1h2v1h-2zM5 1h1v1h-1zM1 2h2v1h-2zM5 2h1v1h-1zM1 3h1v1h-1zM3 3h1v1h-1zM5 3h1v1h-1zM1 4h1v1h-1zM3 4h1v1h-1zM5 4h1v1h-1zM1 5h1v1h-1zM4 5h2v1h-2zM1 6h1v1h-1zM4 6h2v1h-2zM1 7h1v1h-1zM5 7h1v1h-1z"/><path id="r79" d="M2 0h3v1h-3zM1 1h1v1h-1zM5 1h1v1h-1zM1 2h1v1h-1zM5 2h1v1h-1zM1 3h1v1h-1zM5 3h1v1h-1zM1 4h1v1h-1zM5 4h1v1h-1zM1 5h1v1h-1zM5 5h1v1h-1zM1 6h1v1h-1zM5 6h1v1h-1zM2 7h3v1h-3z"/><path id="r80" d="M1 0h4v1h-4zM1 1h1v1h-1zM5 1h1v1h-1zM1 2h1v1h-1zM5 2h1v1h-1zM1 3h1v1h-1zM5 3h1v1h-1zM1 4h4v1h-4zM1 5h1v1h-1zM1 6h1v1h-1zM1 7h1v1h-1z"/><path id="r81" d="M2 0h3v1h-3zM1 1h1v1h-1zM5 1h1v1h-1zM1 2h1v1h-1zM5 2h1v1h-1zM1 3h1v1h-1zM5 3h1v1h-1zM1 4h1v1h-1zM5 4h1v1h-1zM1 5h1v1h-1zM5 5h1v1h-1zM1 6h1v1h-1zM3 6h1v1h-1zM5 6h1v1h-1zM2 7h3v1h-3zM5 8h1v1h-1z"/><path id="r82" d="M1 0h4v1h-4zM1 1h1v1h-1zM5 1h1v1h-1zM1 2h1v1h-1zM5 2h1v1h-1zM1 3h1v1h-1zM5 3h1v1h-1zM1 4h4v1h-4zM1 5h1v1h-1zM3 5h1v1h-1zM1 6h1v1h-1zM4 6h1v1h-1zM1 7h1v1h-1zM5 7h1v1h-1z"/><path id="r83" d="M2 0h3v1h-3zM1 1h1v1h-1zM5 1h1v1h-1zM1 2h1v1h-1zM2 3h2v1h-2zM4 4h1v1h-1zM5 5h1v1h-1zM1 6h1v1h-1zM5 6h1v1h-1zM2 7h3v1h-3z"/><path id="r84" d="M1 0h5v1h-5zM3 1h1v1h-1zM3 2h1v1h-1zM3 3h1v1h-1zM3 4h1v1h-1zM3 5h1v1h-1zM3 6h1v1h-1zM3 7h1v1h-1z"/><path id="r85" d="M1 0h1v1h-1zM5 0h1v1h-1zM1 1h1v1h-1zM5 1h1v1h-1zM1 2h1v1h-1zM5 2h1v1h-1zM1 3h1v1h-1zM5 3h1v1h-1zM1 4h1v1h-1zM5 4h1v1h-1zM1 5h1v1h-1zM5 5h1v1h-1zM1 6h1v1h-1zM5 6h1v1h-1zM2 7h3v1h-3z"/><path id="r86" d="M1 0h1v1h-1zM5 0h1v1h-1zM1 1h1v1h-1zM5 1h1v1h-1zM1 2h1v1h-1zM5 2h1v1h-1zM2 3h1v1h-1zM4 3h1v1h-1zM2 4h1v1h-1zM4 4h1v1h-1zM2 5h1v1h-1zM4 5h1v1h-1zM3 6h1v1h-1zM3 7h1v1h-1z"/><path id="r87" d="M1 0h1v1h-1zM5 0h1v1h-1zM1 1h1v1h-1zM5 1h1v1h-1zM1 2h1v1h-1zM3 2h1v1h-1zM5 2h1v1h-1zM1 3h1v1h-1zM3 3h1v1h-1zM5 3h1v1h-1zM1 4h1v1h-1zM3 4h1v1h-1zM5 4h1v1h-1zM1 5h1v1h-1zM3 5h1v1h-1zM5 5h1v1h-1zM1 6h1v1h-1zM3 6h1v1h-1zM5 6h1v1h-1zM2 7h1v1h-1zM4 7h1v1h-1z"/><path id="r89" d="M1 0h1v1h-1zM5 0h1v1h-1zM1 1h1v1h-1zM5 1h1v1h-1zM2 2h1v1h-1zM4 2h1v1h-1zM2 3h1v1h-1zM4 3h1v1h-1zM3 4h1v1h-1zM3 5h1v1h-1zM3 6h1v1h-1zM3 7h1v1h-1z"/><path id="r95" d="M1 8h5v1h-5z"/><path id="r97" d="M2 2h3v1h-3zM5 3h1v1h-1zM2 4h4v1h-4zM1 5h1v1h-1zM5 5h1v1h-1zM1 6h1v1h-1zM4 6h2v1h-2zM2 7h2v1h-2zM5 7h1v1h-1z"/><path id="r98" d="M1 0h1v1h-1zM1 1h1v1h-1zM1 2h1v1h-1zM3 2h2v1h-2zM1 3h2v1h-2zM5 3h1v1h-1zM1 4h1v1h-1zM5 4h1v1h-1zM1 5h1v1h-1zM5 5h1v1h-1zM1 6h2v1h-2zM5 6h1v1h-1zM1 7h1v1h-1zM3 7h2v1h-2z"/><path id="r99" d="M2 2h3v1h-3zM1 3h1v1h-1zM5 3h1v1h-1zM1 4h1v1h-1zM1 5h1v1h-1zM1 6h1v1h-1zM5 6h1v1h-1zM2 7h3v1h-3z"/><path id="r100" d="M5 0h1v1h-1zM5 1h1v1h-1zM2 2h2v1h-2zM5 2h1v1h-1zM1 3h1v1h-1zM4 3h2v1h-2zM1 4h1v1h-1zM5 4h1v1h-1zM1 5h1v1h-1zM5 5h1v1h-1zM1 6h1v1h-1zM4 6h2v1h-2zM2 7h2v1h-2zM5 7h1v1h-1z"/><path id="r101" d="M2 2h3v1h-3zM1 3h1v1h-1zM5 3h1v1h-1zM1 4h5v1h-5zM1 5h1v1h-1zM1 6h1v1h-1zM2 7h3v1h-3z"/><path id="r103" d="M5 1h1v1h-1zM2 2h3v1h-3zM1 3h1v1h-1zM5 3h1v1h-1zM1 4h1v1h-1zM5 4h1v1h-1zM2 5h3v1h-3zM1 6h1v1h-1zM2 7h3v1h-3zM1 8h1v1h-1zM5 8h1v1h-1zM2 9h3v1h-3z"/><path id="r104" d="M1 0h1v1h-1zM1 1h1v1h-1zM1 2h1v1h-1zM3 2h2v1h-2zM1 3h2v1h-2zM5 3h1v1h-1zM1 4h1v1h-1zM5 4h1v1h-1zM1 5h1v1h-1zM5 5h1v1h-1zM1 6h1v1h-1zM5 6h1v1h-1zM1 7h1v1h-1zM5 7h1v1h-1z"/><path id="r105" d="M3 0h1v1h-1zM2 2h2v1h-2zM3 3h1v1h-1zM3 4h1v1h-1zM3 5h1v1h-1zM3 6h1v1h-1zM2 7h3v1h-3z"/><path id="r106" d="M4 0h1v1h-1zM3 2h2v1h-2zM4 3h1v1h-1zM4 4h1v1h-1zM4 5h1v1h-1zM4 6h1v1h-1zM1 7h1v1h-1zM4 7h1v1h-1zM1 8h1v1h-1zM4 8h1v1h-1zM2 9h2v1h-2z"/><path id="r107" d="M1 0h1v1h-1zM1 1h1v1h-1zM1 2h1v1h-1zM4 2h1v1h-1zM1 3h1v1h-1zM3 3h1v1h-1zM1 4h2v1h-2zM1 5h1v1h-1zM3 5h1v1h-1zM1 6h1v1h-1zM4 6h1v1h-1zM1 7h1v1h-1zM5 7h1v1h-1z"/><path id="r108" d="M2 0h2v1h-2zM3 1h1v1h-1zM3 2h1v1h-1zM3 3h1v1h-1zM3 4h1v1h-1zM3 5h1v1h-1zM3 6h1v1h-1zM2 7h3v1h-3z"/><path id="r109" d="M1 2h2v1h-2zM4 2h1v1h-1zM1 3h1v1h-1zM3 3h1v1h-1zM5 3h1v1h-1zM1 4h1v1h-1zM3 4h1v1h-1zM5 4h1v1h-1zM1 5h1v1h-1zM3 5h1v1h-1zM5 5h1v1h-1zM1 6h1v1h-1zM3 6h1v1h-1zM5 6h1v1h-1zM1 7h1v1h-1zM5 7h1v1h-1z"/><path id="r110" d="M1 2h1v1h-1zM3 2h2v1h-2zM1 3h2v1h-2zM5 3h1v1h-1zM1 4h1v1h-1zM5 4h1v1h-1zM1 5h1v1h-1zM5 5h1v1h-1zM1 6h1v1h-1zM5 6h1v1h-1zM1 7h1v1h-1zM5 7h1v1h-1z"/><path id="r111" d="M2 2h3v1h-3zM1 3h1v1h-1zM5 3h1v1h-1zM1 4h1v1h-1zM5 4h1v1h-1zM1 5h1v1h-1zM5 5h1v1h-1zM1 6h1v1h-1zM5 6h1v1h-1zM2 7h3v1h-3z"/><path id="r112" d="M1 2h1v1h-1zM3 2h2v1h-2zM1 3h2v1h-2zM5 3h1v1h-1zM1 4h1v1h-1zM5 4h1v1h-1zM1 5h1v1h-1zM5 5h1v1h-1zM1 6h2v1h-2zM5 6h1v1h-1zM1 7h1v1h-1zM3 7h2v1h-2zM1 8h1v1h-1zM1 9h1v1h-1z"/><path id="r114" d="M1 2h1v1h-1zM3 2h2v1h-2zM1 3h2v1h-2zM5 3h1v1h-1zM1 4h1v1h-1zM1 5h1v1h-1zM1 6h1v1h-1zM1 7h1v1h-1z"/><path id="r115" d="M2 2h3v1h-3zM1 3h1v1h-1zM5 3h1v1h-1zM2 4h2v1h-2zM4 5h1v1h-1zM1 6h1v1h-1zM5 6h1v1h-1zM2 7h3v1h-3z"/><path id="r116" d="M2 0h1v1h-1zM2 1h1v1h-1zM1 2h4v1h-4zM2 3h1v1h-1zM2 4h1v1h-1zM2 5h1v1h-1zM2 6h1v1h-1zM5 6h1v1h-1zM3 7h2v1h-2z"/><path id="r117" d="M1 2h1v1h-1zM5 2h1v1h-1zM1 3h1v1h-1zM5 3h1v1h-1zM1 4h1v1h-1zM5 4h1v1h-1zM1 5h1v1h-1zM5 5h1v1h-1zM1 6h1v1h-1zM4 6h2v1h-2zM2 7h2v1h-2zM5 7h1v1h-1z"/><path id="r118" d="M1 2h1v1h-1zM5 2h1v1h-1zM1 3h1v1h-1zM5 3h1v1h-1zM1 4h1v1h-1zM5 4h1v1h-1zM2 5h1v1h-1zM4 5h1v1h-1zM2 6h1v1h-1zM4 6h1v1h-1zM3 7h1v1h-1z"/><path id="r121" d="M1 2h1v1h-1zM5 2h1v1h-1zM1 3h1v1h-1zM5 3h1v1h-1zM1 4h1v1h-1zM5 4h1v1h-1zM1 5h1v1h-1zM4 5h2v1h-2zM2 6h2v1h-2zM5 6h1v1h-1zM5 7h1v1h-1zM4 8h1v1h-1zM1 9h3v1h-3z"/><path id="r122" d="M1 2h5v1h-5zM4 3h1v1h-1zM3 4h1v1h-1zM2 5h1v1h-1zM1 6h1v1h-1zM1 7h5v1h-5z"/><path id="r124" d="M3 0h1v1h-1zM3 1h1v1h-1zM3 2h1v1h-1zM3 3h1v1h-1zM3 4h1v1h-1zM3 5h1v1h-1zM3 6h1v1h-1zM3 7h1v1h-1zM3 8h1v1h-1z"/></defs><g fill="#000"><use href="#r99" x="60" y="17"/><use href="#r104" x="66" y="17"/><use href="#r114" x="72" y="17"/><use href="#r49" x="78" y="17"/><use href="#r49" x="84" y="17"/><use href="#r58" x="90" y="17"/><use href="#r53" x="96" y="17"/><use href="#r55" x="102" y="17"/><use href="#r55" x="108" y="17"/><use href="#r51" x="114" y="17"/><use href="#r48" x="120" y="17"/><use href="#r48" x="126" y="17"/><use href="#r50" x="132" y="17"/><use href="#r46" x="138" y="17"/><use href="#r46" x="144" y="17"/><use href="#r53" x="150" y="17"/><use href="#r55" x="156" y="17"/><use href="#r56" x="162" y="17"/><use href="#r56" x="168" y="17"/><use href="#r48" x="174" y="17"/><use href="#r48" x="180" y="17"/><use href="#r48" x="186" y="17"/><use href="#r53" x="44" y="36"/><use href="#r55" x="50" y="36"/><use href="#r55" x="56" y="36"/><use href="#r51" x="62" y="36"/><use href="#r107" x="68" y="36"/><use href="#r53" x="97" y="36"/><use href="#r55" x="103" y="36"/><use href="#r55" x="109" y="36"/><use href="#r52" x="115" y="36"/><use href="#r107" x="121" y="36"/><use href="#r53" x="151" y="36"/><use href="#r55" x="157" y="36"/><use href="#r55" x="163" y="36"/><use href="#r53" x="169" y="36"/><use href="#r107" x="175" y="36"/><use href="#r53" x="204" y="36"/><use href="#r55" x="210" y="36"/><use href="#r55" x="216" y="36"/><use href="#r54" x="222" y="36"/><use href="#r107" x="228" y="36"/><use href="#r53" x="257" y="36"/><use href="#r55" x="263" y="36"/><use href="#r55" x="269" y="36"/><use href="#r55" x="275" y="36"/><use href="#r107" x="281" y="36"/><use href="#r53" x="311" y="36"/><use href="#r55" x="317" y="36"/><use href="#r55" x="323" y="36"/><use href="#r56" x="329" y="36"/><use href="#r107" x="335" y="36"/><use href="#r53" x="364" y="36"/><use href="#r55" x="370" y="36"/><use href="#r55" x="376" y="36"/><use href="#r57" x="382" y="36"/><use href="#r107" x="388" y="36"/><use href="#r53" x="417" y="36"/><use href="#r55" x="423" y="36"/><use href="#r56" x="429" y="36"/><use href="#r48" x="435" y="36"/><use href="#r107" x="441" y="36"/><use href="#r53" x="471" y="36"/><use href="#r55" x="477" y="36"/><use href="#r56" x="483" y="36"/><use href="#r49" x="489" y="36"/><use href="#r107" x="495" y="36"/><use href="#r53" x="524" y="36"/><use href="#r55" x="530" y="36"/><use href="#r56" x="536" y="36"/><use href="#r50" x="542" y="36"/><use href="#r107" x="548" y="36"/><use href="#r53" x="577" y="36"/><use href="#r55" x="583" y="36"/><use href="#r56" x="589" y="36"/><use href="#r51" x="595" y="36"/><use href="#r107" x="601" y="36"/><use href="#r53" x="631" y="36"/><use href="#r55" x="637" y="36"/><use href="#r56" x="643" y="36"/><use href="#r52" x="649" y="36"/><use href="#r107" x="655" y="36"/><use href="#r53" x="684" y="36"/><use href="#r55" x="690" y="36"/><use href="#r56" x="696" y="36"/><use href="#r53" x="702" y="36"/><use href="#r107" x="708" y="36"/><use href="#r53" x="737" y="36"/><use href="#r55" x="743" y="36"/><use href="#r56" x="749" y="36"/><use href="#r54" x="755" y="36"/><use href="#r107" x="761" y="36"/><use href="#r53" x="791" y="36"/><use href="#r55" x="797" y="36"/><use href="#r56" x="803" y="36"/><use href="#r55" x="809" y="36"/><use href="#r107" x="815" y="36"/><use href="#r53" x="844" y="36"/><use href="#r55" x="850" y="36"/><use href="#r56" x="856" y="36"/><use href="#r56" x="862" y="36"/><use href="#r107" x="868" y="36"/><use href="#b67" x="60" y="70"/><use href="#b121" x="67" y="70"/><use href="#b116" x="74" y="70"/><use href="#b111" x="81" y="70"/><use href="#b103" x="88" y="70"/><use href="#b101" x="95" y="70"/><use href="#b110" x="102" y="70"/><use href="#b101" x="109" y="70"/><use href="#b116" x="116" y="70"/><use href="#b105" x="123" y="70"/><use href="#b99" x="130" y="70"/><use href="#b66" x="144" y="70"/><use href="#b97" x="151" y="70"/><use href="#b110" x="158" y="70"/><use href="#b100" x="165" y="70"/><use href="#b115" x="172" y="70"/><use href="#r49" x="60" y="82"/><use href="#r49" x="66" y="82"/><use href="#r112" x="72" y="82"/><use href="#r49" x="78" y="82"/><use href="#r53" x="84" y="82"/><use href="#r46" x="90" y="82"/><use href="#r52" x="96" y="82"/><use href="#b68" x="60" y="124"/><use href="#b71" x="67" y="124"/><use href="#b86" x="74" y="124"/><use href="#b83" x="88" y="124"/><use href="#b116" x="95" y="124"/><use href="#b114" x="102" y="124"/><use href="#b117" x="109" y="124"/><use href="#b99" x="116" y="124"/><use href="#b116" x="123" y="124"/><use href="#b117" x="130" y="124"/><use href="#b114" x="137" y="124"/><use href="#b97" x="144" y="124"/><use href="#b108" x="151" y="124"/><use href="#b86" x="165" y="124"/><use href="#b97" x="172" y="124"/><use href="#b114" x="179" y="124"/><use href="#b105" x="186" y="124"/><use href="#b97" x="193" y="124"/><use href="#b110" x="200" y="124"/><use href="#b116" x="207" y="124"/><use href="#b115" x="214" y="124"/><use href="#r110" x="60" y="136"/><use href="#r115" x="66" y="136"/><use href="#r118" x="72" y="136"/><use href="#r49" x="78" y="136"/><use href="#r48" x="84" y="136"/><use href="#r52" x="90" y="136"/><use href="#r54" x="96" y="136"/><use href="#r48" x="102" y="136"/><use href="#r54" x="108" y="136"/><use href="#r56" x="114" y="136"/><use href="#r40" x="126" y="136"/><use href="#r67" x="132" y="136"/><use href="#r111" x="138" y="136"/><use href="#r101" x="144" y="136"/><use href="#r50" x="150" y="136"/><use href="#r48" x="156" y="136"/><use href="#r49" x="162" y="136"/><use href="#r52" x="168" y="136"/><use href="#r41" x="174" y="136"/><use href="#r110" x="60" y="157"/><use href="#r115" x="66" y="157"/><use href="#r118" x="72" y="157"/><use href="#r53" x="78" y="157"/><use href="#r53" x="84" y="157"/><use href="#r51" x="90" y="157"/><use href="#r50" x="96" y="157"/><use href="#r52" x="102" y="157"/><use href="#r49" x="108" y="157"/><use href="#r40" x="120" y="157"/><use href="#r67" x="126" y="157"/><use href="#r111" x="132" y="157"/><use href="#r111" x="138" y="157"/><use href="#r112" x="144" y="157"/><use href="#r101" x="150" y="157"/><use href="#r114" x="156" y="157"/><use href="#r50" x="162" y="157"/><use href="#r48" x="168" y="157"/><use href="#r49" x="174" y="157"/><use href="#r49" x="180" y="157"/><use href="#r41" x="186" y="157"/><use href="#r100" x="60" y="178"/><use href="#r103" x="66" y="178"/><use href="#r118" x="72" y="178"/><use href="#r57" x="78" y="178"/><use href="#r54" x="84" y="178"/><use href="#r48" x="90" y="178"/><use href="#r110" x="96" y="178"/><use href="#r50" x="102" y="178"/><use href="#r50" x="108" y="178"/><use href="#r51" x="114" y="178"/><use href="#r40" x="126" y="178"/><use href="#r83" x="132" y="178"/><use href="#r101" x="138" y="178"/><use href="#r100" x="144" y="178"/><use href="#r108" x="150" y="178"/><use href="#r97" x="156" y="178"/><use href="#r122" x="162" y="178"/><use href="#r101" x="168" y="178"/><use href="#r99" x="174" y="178"/><use href="#r107" x="180" y="178"/><use href="#r50" x="186" y="178"/><use href="#r48" x="192" y="178"/><use href="#r50" x="198" y="178"/><use href="#r48" x="204" y="178"/><use href="#r41" x="210" y="178"/><use href="#r110" x="60" y="199"/><use href="#r115" x="66" y="199"/><use href="#r118" x="72" y="199"/><use href="#r49" x="78" y="199"/><use href="#r48" x="84" y="199"/><use href="#r53" x="90" y="199"/><use href="#r51" x="96" y="199"/><use href="#r52" x="102" y="199"/><use href="#r49" x="108" y="199"/><use href="#r52" x="114" y="199"/><use href="#r40" x="126" y="199"/><use href="#r67" x="132" y="199"/><use href="#r111" x="138" y="199"/><use href="#r101" x="144" y="199"/><use href="#r50" x="150" y="199"/><use href="#r48" x="156" y="199"/><use href="#r49" x="162" y="199"/><use href="#r52" x="168" y="199"/><use href="#r41" x="174" y="199"/><use href="#r110" x="60" y="220"/><use href="#r115" x="66" y="220"/><use href="#r118" x="72" y="220"/><use href="#r53" x="78" y="220"/><use href="#r53" x="84" y="220"/><use href="#r51" x="90" y="220"/><use href="#r50" x="96" y="220"/><use href="#r55" x="102" y="220"/><use href="#r51" x="108" y="220"/><use href="#r40" x="120" y="220"/><use href="#r67" x="126" y="220"/><use href="#r111" x="132" y="220"/><use href="#r111" x="138" y="220"/><use href="#r112" x="144" y="220"/><use href="#r101" x="150" y="220"/><use href="#r114" x="156" y="220"/><use href="#r50" x="162" y="220"/><use href="#r48" x="168" y="220"/><use href="#r49" x="174" y="220"/><use href="#r49" x="180" y="220"/><use href="#r41" x="186" y="220"/><use href="#r110" x="60" y="241"/><use href="#r115" x="66" y="241"/><use href="#r118" x="72" y="241"/><use href="#r54" x="78" y="241"/><use href="#r52" x="84" y="241"/><use href="#r51" x="90" y="241"/><use href="#r54" x="96" y="241"/><use href="#r55" x="102" y="241"/><use href="#r53" x="108" y="241"/><use href="#r55" x="114" y="241"/><use href="#r40" x="126" y="241"/><use href="#r83" x="132" y="241"/><use href="#r101" x="138" y="241"/><use href="#r100" x="144" y="241"/><use href="#r108" x="150" y="241"/><use href="#r97" x="156" y="241"/><use href="#r122" x="162" y="241"/><use href="#r101" x="168" y="241"/><use href="#r99" x="174" y="241"/><use href="#r107" x="180" y="241"/><use href="#r50" x="186" y="241"/><use href="#r48" x="192" y="241"/><use href="#r50" x="198" y="241"/><use href="#r48" x="204" y="241"/><use href="#r41" x="210" y="241"/><use href="#r110" x="60" y="262"/><use href="#r115" x="66" y="262"/><use href="#r118" x="72" y="262"/><use href="#r53" x="78" y="262"/><use href="#r53" x="84" y="262"/><use href="#r51" x="90" y="262"/><use href="#r50" x="96" y="262"/><use href="#r55" x="102" y="262"/><use href="#r55" x="108" y="262"/><use href="#r40" x="120" y="262"/><use href="#r67" x="126" y="262"/><use href="#r111" x="132" y="262"/><use href="#r111" x="138" y="262"/><use href="#r112" x="144" y="262"/><use href="#r101" x="150" y="262"/><use href="#r114" x="156" y="262"/><use href="#r50" x="162" y="262"/><use href="#r48" x="168" y="262"/><use href="#r49" x="174" y="262"/><use href="#r49" x="180" y="262"/><use href="#r41" x="186" y="262"/><use href="#r101" x="60" y="283"/><use href="#r115" x="66" y="283"/><use href="#r118" x="72" y="283"/><use href="#r50" x="78" y="283"/><use href="#r55" x="84" y="283"/><use href="#r53" x="90" y="283"/><use href="#r57" x="96" y="283"/><use href="#r56" x="102" y="283"/><use href="#r48" x="108" y="283"/><use href="#r49" x="114" y="283"/><use href="#r40" x="126" y="283"/><use href="#r82" x="132" y="283"/><use href="#r101" x="138" y="283"/><use href="#r100" x="144" y="283"/><use href="#r111" x="150" y="283"/><use href="#r110" x="156" y="283"/><use href="#r50" x="162" y="283"/><use href="#r48" x="168" y="283"/><use href="#r48" x="174" y="283"/><use href="#r54" x="180" y="283"/><use href="#r41" x="186" y="283"/><use href="#r110" x="60" y="304"/><use href="#r115" x="66" y="304"/><use href="#r118" x="72" y="304"/><use href="#r56" x="78" y="304"/><use href="#r51" x="84" y="304"/><use href="#r50" x="90" y="304"/><use href="#r48" x="96" y="304"/><use href="#r53" x="102" y="304"/><use href="#r56" x="108" y="304"/><use href="#r40" x="120" y="304"/><use href="#r87" x="126" y="304"/><use href="#r111" x="132" y="304"/><use href="#r110" x="138" y="304"/><use href="#r103" x="144" y="304"/><use href="#r50" x="150" y="304"/><use href="#r48" x="156" y="304"/><use href="#r48" x="162" y="304"/><use href="#r55" x="168" y="304"/><use href="#r41" x="174" y="304"/><use href="#r110" x="60" y="325"/><use href="#r115" x="66" y="325"/><use href="#r118" x="72" y="325"/><use href="#r51" x="78" y="325"/><use href="#r50" x="84" y="325"/><use href="#r49" x="90" y="325"/><use href="#r49" x="96" y="325"/><use href="#r49" x="102" y="325"/><use href="#r51" x="108" y="325"/><use href="#r50" x="114" y="325"/><use href="#r40" x="126" y="325"/><use href="#r67" x="132" y="325"/><use href="#r104" x="138" y="325"/><use href="#r97" x="144" y="325"/><use href="#r105" x="150" y="325"/><use href="#r115" x="156" y="325"/><use href="#r115" x="162" y="325"/><use href="#r111" x="168" y="325"/><use href="#r110" x="174" y="325"/><use href="#r50" x="180" y="325"/><use href="#r48" x="186" y="325"/><use href="#r49" x="192" y="325"/><use href="#r57" x="198" y="325"/><use href="#r41" x="204" y="325"/><use href="#r100" x="60" y="346"/><use href="#r103" x="66" y="346"/><use href="#r118" x="72" y="346"/><use href="#r49" x="78" y="346"/><use href="#r54" x="84" y="346"/><use href="#r49" x="90" y="346"/><use href="#r50" x="96" y="346"/><use href="#r110" x="102" y="346"/><use href="#r53" x="108" y="346"/><use href="#r52" x="114" y="346"/><use href="#r40" x="126" y="346"/><use href="#r67" x="132" y="346"/><use href="#r111" x="138" y="346"/><use href="#r111" x="144" y="346"/><use href="#r112" x="150" y="346"/><use href="#r101" x="156" y="346"/><use href="#r114" x="162" y="346"/><use href="#r50" x="168" y="346"/><use href="#r48" x="174" y="346"/><use href="#r49" x="180" y="346"/><use href="#r49" x="186" y="346"/><use href="#r41" x="192" y="346"/><use href="#r110" x="60" y="367"/><use href="#r115" x="66" y="367"/><use href="#r118" x="72" y="367"/><use href="#r52" x="78" y="367"/><use href="#r50" x="84" y="367"/><use href="#r48" x="90" y="367"/><use href="#r49" x="96" y="367"/><use href="#r48" x="102" y="367"/><use href="#r49" x="108" y="367"/><use href="#r48" x="114" y="367"/><use href="#r40" x="126" y="367"/><use href="#r103" x="132" y="367"/><use href="#r110" x="138" y="367"/><use href="#r111" x="144" y="367"/><use href="#r109" x="150" y="367"/><use href="#r65" x="156" y="367"/><use href="#r68" x="162" y="367"/><use href="#r83" x="168" y="367"/><use href="#r116" x="174" y="367"/><use href="#r114" x="180" y="367"/><use href="#r117" x="186" y="367"/><use href="#r99" x="192" y="367"/><use href="#r116" x="198" y="367"/><use href="#r117" x="204" y="367"/><use href="#r114" x="210" y="367"/><use href="#r97" x="216" y="367"/><use href="#r108" x="222" y="367"/><use href="#r86" x="228" y="367"/><use href="#r97" x="234" y="367"/><use href="#r114" x="240" y="367"/><use href="#r105" x="246" y="367"/><use href="#r97" x="252" y="367"/><use href="#r110" x="258" y="367"/><use href="#r116" x="264" y="367"/><use href="#r115" x="270" y="367"/><use href="#r41" x="276" y="367"/><use href="#r110" x="60" y="388"/><use href="#r115" x="66" y="388"/><use href="#r118" x="72" y="388"/><use href="#r49" x="78" y="388"/><use href="#r48" x="84" y="388"/><use href="#r53" x="90" y="388"/><use href="#r53" x="96" y="388"/><use href="#r48" x="102" y="388"/><use href="#r49" x="108" y="388"/><use href="#r49" x="114" y="388"/><use href="#r40" x="126" y="388"/><use href="#r67" x="132" y="388"/><use href="#r111" x="138" y="388"/><use href="#r101" x="144" y="388"/><use href="#r50" x="150" y="388"/><use href="#r48" x="156" y="388"/><use href="#r49" x="162" y="388"/><use href="#r52" x="168" y="388"/><use href="#r41" x="174" y="388"/><use href="#r100" x="60" y="409"/><use href="#r103" x="66" y="409"/><use href="#r118" x="72" y="409"/><use href="#r49" x="78" y="409"/><use href="#r54" x="84" y="409"/><use href="#r49" x="90" y="409"/><use href="#r54" x="96" y="409"/><use href="#r110" x="102" y="409"/><use href="#r53" x="108" y="409"/><use href="#r52" x="114" y="409"/><use href="#r40" x="126" y="409"/><use href="#r67" x="132" y="409"/><use href="#r111" x="138" y="409"/><use href="#r111" x="144" y="409"/><use href="#r112" x="150" y="409"/><use href="#r101" x="156" y="409"/><use href="#r114" x="162" y="409"/><use href="#r50" x="168" y="409"/><use href="#r48" x="174" y="409"/><use href="#r49" x="180" y="409"/><use href="#r49" x="186" y="409"/><use href="#r41" x="192" y="409"/><use href="#r100" x="60" y="430"/><use href="#r103" x="66" y="430"/><use href="#r118" x="72" y="430"/><use href="#r49" x="78" y="430"/><use href="#r48" x="84" y="430"/><use href="#r52" x="90" y="430"/><use href="#r52" x="96" y="430"/><use href="#r110" x="102" y="430"/><use href="#r49" x="108" y="430"/><use href="#r48" x="114" y="430"/><use href="#r48" x="120" y="430"/><use href="#r40" x="132" y="430"/><use href="#r67" x="138" y="430"/><use href="#r111" x="144" y="430"/><use href="#r101" x="150" y="430"/><use href="#r50" x="156" y="430"/><use href="#r48" x="162" y="430"/><use href="#r49" x="168" y="430"/><use href="#r52" x="174" y="430"/><use href="#r41" x="180" y="430"/><use href="#r100" x="60" y="451"/><use href="#r103" x="66" y="451"/><use href="#r118" x="72" y="451"/><use href="#r52" x="78" y="451"/><use href="#r50" x="84" y="451"/><use href="#r110" x="90" y="451"/><use href="#r49" x="96" y="451"/><use href="#r49" x="102" y="451"/><use href="#r49" x="108" y="451"/><use href="#r40" x="120" y="451"/><use href="#r76" x="126" y="451"/><use href="#r111" x="132" y="451"/><use href="#r117" x="138" y="451"/><use href="#r50" x="144" y="451"/><use href="#r48" x="150" y="451"/><use href="#r49" x="156" y="451"/><use href="#r53" x="162" y="451"/><use href="#r41" x="168" y="451"/><use href="#r100" x="60" y="472"/><use href="#r103" x="66" y="472"/><use href="#r118" x="72" y="472"/><use href="#r49" x="78" y="472"/><use href="#r49" x="84" y="472"/><use href="#r110" x="90" y="472"/><use href="#r53" x="96" y="472"/><use href="#r48" x="102" y="472"/><use href="#r40" x="114" y="472"/><use href="#r65" x="120" y="472"/><use href="#r114" x="126" y="472"/><use href="#r108" x="132" y="472"/><use href="#r116" x="138" y="472"/><use href="#r50" x="144" y="472"/><use href="#r48" x="150" y="472"/><use href="#r49" x="156" y="472"/><use href="#r49" x="162" y="472"/><use href="#r41" x="168" y="472"/><use href="#r110" x="60" y="493"/><use href="#r115" x="66" y="493"/><use href="#r118" x="72" y="493"/><use href="#r53" x="78" y="493"/><use href="#r49" x="84" y="493"/><use href="#r57" x="90" y="493"/><use href="#r54" x="96" y="493"/><use href="#r53" x="102" y="493"/><use href="#r50" x="108" y="493"/><use href="#r40" x="120" y="493"/><use href="#r83" x="126" y="493"/><use href="#r104" x="132" y="493"/><use href="#r97" x="138" y="493"/><use href="#r105" x="144" y="493"/><use href="#r107" x="150" y="493"/><use href="#r104" x="156" y="493"/><use href="#r50" x="162" y="493"/><use href="#r48" x="168" y="493"/><use href="#r48" x="174" y="493"/><use href="#r57" x="180" y="493"/><use href="#r41" x="186" y="493"/><use href="#r110" x="761" y="493"/><use href="#r115" x="767" y="493"/><use href="#r118" x="773" y="493"/><use href="#r54" x="779" y="493"/><use href="#r53" x="785" y="493"/><use href="#r57" x="791" y="493"/><use href="#r48" x="797" y="493"/><use href="#r50" x="803" y="493"/><use href="#r54" x="809" y="493"/><use href="#r50" x="815" y="493"/><use href="#r40" x="827" y="493"/><use href="#r83" x="833" y="493"/><use href="#r101" x="839" y="493"/><use href="#r100" x="845" y="493"/><use href="#r108" x="851" y="493"/><use href="#r97" x="857" y="493"/><use href="#r122" x="863" y="493"/><use href="#r101" x="869" y="493"/><use href="#r99" x="875" y="493"/><use href="#r107" x="881" y="493"/><use href="#r50" x="887" y="493"/><use href="#r48" x="893" y="493"/><use href="#r50" x="899" y="493"/><use href="#r48" x="905" y="493"/><use href="#r41" x="911" y="493"/><use href="#r110" x="60" y="514"/><use href="#r115" x="66" y="514"/><use href="#r118" x="72" y="514"/><use href="#r53" x="78" y="514"/><use href="#r53" x="84" y="514"/><use href="#r51" x="90" y="514"/><use href="#r51" x="96" y="514"/><use href="#r49" x="102" y="514"/><use href="#r48" x="108" y="514"/><use href="#r40" x="120" y="514"/><use href="#r67" x="126" y="514"/><use href="#r111" x="132" y="514"/><use href="#r111" x="138" y="514"/><use href="#r112" x="144" y="514"/><use href="#r101" x="150" y="514"/><use href="#r114" x="156" y="514"/><use href="#r50" x="162" y="514"/><use href="#r48" x="168" y="514"/><use href="#r49" x="174" y="514"/><use href="#r49" x="180" y="514"/><use href="#r41" x="186" y="514"/><use href="#r110" x="851" y="514"/><use href="#r115" x="857" y="514"/><use href="#r118" x="863" y="514"/><use href="#r52" x="869" y="514"/><use href="#r55" x="875" y="514"/><use href="#r49" x="881" y="514"/><use href="#r51" x="887" y="514"/><use href="#r100" x="60" y="535"/><use href="#r103" x="66" y="535"/><use href="#r118" x="72" y="535"/><use href="#r57" x="78" y="535"/><use href="#r54" x="84" y="535"/><use href="#r49" x="90" y="535"/><use href="#r110" x="96" y="535"/><use href="#r50" x="102" y="535"/><use href="#r50" x="108" y="535"/><use href="#r51" x="114" y="535"/><use href="#r40" x="126" y="535"/><use href="#r83" x="132" y="535"/><use href="#r101" x="138" y="535"/><use href="#r100" x="144" y="535"/><use href="#r108" x="150" y="535"/><use href="#r97" x="156" y="535"/><use href="#r122" x="162" y="535"/><use href="#r101" x="168" y="535"/><use href="#r99" x="174" y="535"/><use href="#r107" x="180" y="535"/><use href="#r50" x="186" y="535"/><use href="#r48" x="192" y="535"/><use href="#r50" x="198" y="535"/><use href="#r48" x="204" y="535"/><use href="#r41" x="210" y="535"/><use href="#r100" x="60" y="556"/><use href="#r103" x="66" y="556"/><use href="#r118" x="72" y="556"/><use href="#r49" x="78" y="556"/><use href="#r55" x="84" y="556"/><use href="#r101" x="90" y="556"/><use href="#r50" x="96" y="556"/><use href="#r48" x="102" y="556"/><use href="#r51" x="108" y="556"/><use href="#r40" x="120" y="556"/><use href="#r86" x="126" y="556"/><use href="#r111" x="132" y="556"/><use href="#r103" x="138" y="556"/><use href="#r108" x="144" y="556"/><use href="#r101" x="150" y="556"/><use href="#r114" x="156" y="556"/><use href="#r50" x="162" y="556"/><use href="#r48" x="168" y="556"/><use href="#r49" x="174" y="556"/><use href="#r48" x="180" y="556"/><use href="#r41" x="186" y="556"/><use href="#r100" x="60" y="577"/><use href="#r103" x="66" y="577"/><use href="#r118" x="72" y="577"/><use href="#r49" x="78" y="577"/><use href="#r48" x="84" y="577"/><use href="#r52" x="90" y="577"/><use href="#r53" x="96" y="577"/><use href="#r110" x="102" y="577"/><use href="#r49" x="108" y="577"/><use href="#r48" x="114" y="577"/><use href="#r48" x="120" y="577"/><use href="#r40" x="132" y="577"/><use href="#r67" x="138" y="577"/><use href="#r111" x="144" y="577"/><use href="#r101" x="150" y="577"/><use href="#r50" x="156" y="577"/><use href="#r48" x="162" y="577"/><use href="#r49" x="168" y="577"/><use href="#r52" x="174" y="577"/><use href="#r41" x="180" y="577"/><use href="#r110" x="621" y="577"/><use href="#r115" x="627" y="577"/><use href="#r118" x="633" y="577"/><use href="#r54" x="639" y="577"/><use href="#r52" x="645" y="577"/><use href="#r52" x="651" y="577"/><use href="#r53" x="657" y="577"/><use href="#r54" x="663" y="577"/><use href="#r56" x="669" y="577"/><use href="#r52" x="675" y="577"/><use href="#r40" x="687" y="577"/><use href="#r83" x="693" y="577"/><use href="#r101" x="699" y="577"/><use href="#r100" x="705" y="577"/><use href="#r108" x="711" y="577"/><use href="#r97" x="717" y="577"/><use href="#r122" x="723" y="577"/><use href="#r101" x="729" y="577"/><use href="#r99" x="735" y="577"/><use href="#r107" x="741" y="577"/><use href="#r50" x="747" y="577"/><use href="#r48" x="753" y="577"/><use href="#r50" x="759" y="577"/><use href="#r48" x="765" y="577"/><use href="#r41" x="771" y="577"/><use href="#r110" x="60" y="598"/><use href="#r115" x="66" y="598"/><use href="#r118" x="72" y="598"/><use href="#r51" x="78" y="598"/><use href="#r49" x="84" y="598"/><use href="#r54" x="90" y="598"/><use href="#r57" x="96" y="598"/><use href="#r52" x="102" y="598"/><use href="#r48" x="108" y="598"/><use href="#r55" x="114" y="598"/><use href="#r40" x="126" y="598"/><use href="#r70" x="132" y="598"/><use href="#r117" x="138" y="598"/><use href="#r50" x="144" y="598"/><use href="#r48" x="150" y="598"/><use href="#r49" x="156" y="598"/><use href="#r56" x="162" y="598"/><use href="#r41" x="168" y="598"/><use href="#r100" x="60" y="619"/><use href="#r103" x="66" y="619"/><use href="#r118" x="72" y="619"/><use href="#r49" x="78" y="619"/><use href="#r54" x="84" y="619"/><use href="#r49" x="90" y="619"/><use href="#r55" x="96" y="619"/><use href="#r110" x="102" y="619"/><use href="#r53" x="108" y="619"/><use href="#r52" x="114" y="619"/><use href="#r40" x="126" y="619"/><use href="#r67" x="132" y="619"/><use href="#r111" x="138" y="619"/><use href="#r111" x="144" y="619"/><use href="#r112" x="150" y="619"/><use href="#r101" x="156" y="619"/><use href="#r114" x="162" y="619"/><use href="#r50" x="168" y="619"/><use href="#r48" x="174" y="619"/><use href="#r49" x="180" y="619"/><use href="#r49" x="186" y="619"/><use href="#r41" x="192" y="619"/><use href="#r110" x="60" y="640"/><use href="#r115" x="66" y="640"/><use href="#r118" x="72" y="640"/><use href="#r54" x="78" y="640"/><use href="#r53" x="84" y="640"/><use href="#r40" x="96" y="640"/><use href="#r84" x="102" y="640"/><use href="#r117" x="108" y="640"/><use href="#r122" x="114" y="640"/><use href="#r117" x="120" y="640"/><use href="#r110" x="126" y="640"/><use href="#r50" x="132" y="640"/><use href="#r48" x="138" y="640"/><use href="#r48" x="144" y="640"/><use href="#r53" x="150" y="640"/><use href="#r41" x="156" y="640"/><use href="#r110" x="60" y="661"/><use href="#r115" x="66" y="661"/><use href="#r118" x="72" y="661"/><use href="#r55" x="78" y="661"/><use href="#r54" x="84" y="661"/><use href="#r53" x="90" y="661"/><use href="#r52" x="96" y="661"/><use href="#r40" x="108" y="661"/><use href="#r75" x="114" y="661"/><use href="#r105" x="120" y="661"/><use href="#r100" x="126" y="661"/><use href="#r100" x="132" y="661"/><use href="#r50" x="138" y="661"/><use href="#r48" x="144" y="661"/><use href="#r48" x="150" y="661"/><use href="#r56" x="156" y="661"/><use href="#r41" x="162" y="661"/><use href="#r101" x="60" y="682"/><use href="#r115" x="66" y="682"/><use href="#r118" x="72" y="682"/><use href="#r51" x="78" y="682"/><use href="#r53" x="84" y="682"/><use href="#r52" x="90" y="682"/><use href="#r55" x="96" y="682"/><use href="#r50" x="102" y="682"/><use href="#r54" x="108" y="682"/><use href="#r50" x="114" y="682"/><use href="#r40" x="126" y="682"/><use href="#r66" x="132" y="682"/><use href="#r111" x="138" y="682"/><use href="#r111" x="144" y="682"/><use href="#r109" x="150" y="682"/><use href="#r115" x="156" y="682"/><use href="#r109" x="162" y="682"/><use href="#r97" x="168" y="682"/><use href="#r50" x="174" y="682"/><use href="#r48" x="180" y="682"/><use href="#r49" x="186" y="682"/><use href="#r52" x="192" y="682"/><use href="#r41" x="198" y="682"/><use href="#r100" x="60" y="703"/><use href="#r103" x="66" y="703"/><use href="#r118" x="72" y="703"/><use href="#r49" x="78" y="703"/><use href="#r48" x="84" y="703"/><use href="#r52" x="90" y="703"/><use href="#r54" x="96" y="703"/><use href="#r110" x="102" y="703"/><use href="#r49" x="108" y="703"/><use href="#r48" x="114" y="703"/><use href="#r48" x="120" y="703"/><use href="#r40" x="132" y="703"/><use href="#r67" x="138" y="703"/><use href="#r111" x="144" y="703"/><use href="#r101" x="150" y="703"/><use href="#r50" x="156" y="703"/><use href="#r48" x="162" y="703"/><use href="#r49" x="168" y="703"/><use href="#r52" x="174" y="703"/><use href="#r41" x="180" y="703"/><use href="#r110" x="60" y="724"/><use href="#r115" x="66" y="724"/><use href="#r118" x="72" y="724"/><use href="#r49" x="78" y="724"/><use href="#r48" x="84" y="724"/><use href="#r52" x="90" y="724"/><use href="#r54" x="96" y="724"/><use href="#r48" x="102" y="724"/><use href="#r52" x="108" y="724"/><use href="#r48" x="114" y="724"/><use href="#r40" x="126" y="724"/><use href="#r67" x="132" y="724"/><use href="#r111" x="138" y="724"/><use href="#r101" x="144" y="724"/><use href="#r50" x="150" y="724"/><use href="#r48" x="156" y="724"/><use href="#r49" x="162" y="724"/><use href="#r52" x="168" y="724"/><use href="#r41" x="174" y="724"/><use href="#r110" x="507" y="724"/><use href="#r115" x="513" y="724"/><use href="#r118" x="519" y="724"/><use href="#r51" x="525" y="724"/><use href="#r49" x="531" y="724"/><use href="#r49" x="537" y="724"/><use href="#r50" x="543" y="724"/><use href="#r48" x="549" y="724"/><use href="#r49" x="555" y="724"/><use href="#r48" x="561" y="724"/><use href="#r40" x="573" y="724"/><use href="#r76" x="579" y="724"/><use href="#r117" x="585" y="724"/><use href="#r50" x="591" y="724"/><use href="#r48" x="597" y="724"/><use href="#r49" x="603" y="724"/><use href="#r55" x="609" y="724"/><use href="#r41" x="615" y="724"/><use href="#r110" x="60" y="745"/><use href="#r115" x="66" y="745"/><use href="#r118" x="72" y="745"/><use href="#r49" x="78" y="745"/><use href="#r48" x="84" y="745"/><use href="#r52" x="90" y="745"/><use href="#r57" x="96" y="745"/><use href="#r53" x="102" y="745"/><use href="#r52" x="108" y="745"/><use href="#r57" x="114" y="745"/><use href="#r40" x="126" y="745"/><use href="#r67" x="132" y="745"/><use href="#r111" x="138" y="745"/><use href="#r101" x="144" y="745"/><use href="#r50" x="150" y="745"/><use href="#r48" x="156" y="745"/><use href="#r49" x="162" y="745"/><use href="#r52" x="168" y="745"/><use href="#r41" x="174" y="745"/><use href="#r110" x="194" y="745"/><use href="#r115" x="200" y="745"/><use href="#r118" x="206" y="745"/><use href="#r53" x="212" y="745"/><use href="#r53" x="218" y="745"/><use href="#r51" x="224" y="745"/><use href="#r51" x="230" y="745"/><use href="#r52" x="236" y="745"/><use href="#r52" x="242" y="745"/><use href="#r40" x="254" y="745"/><use href="#r67" x="260" y="745"/><use href="#r111" x="266" y="745"/><use href="#r111" x="272" y="745"/><use href="#r112" x="278" y="745"/><use href="#r101" x="284" y="745"/><use href="#r114" x="290" y="745"/><use href="#r50" x="296" y="745"/><use href="#r48" x="302" y="745"/><use href="#r49" x="308" y="745"/><use href="#r49" x="314" y="745"/><use href="#r41" x="320" y="745"/><use href="#r110" x="60" y="766"/><use href="#r115" x="66" y="766"/><use href="#r118" x="72" y="766"/><use href="#r49" x="78" y="766"/><use href="#r48" x="84" y="766"/><use href="#r53" x="90" y="766"/><use href="#r48" x="96" y="766"/><use href="#r51" x="102" y="766"/><use href="#r53" x="108" y="766"/><use href="#r51" x="114" y="766"/><use href="#r40" x="126" y="766"/><use href="#r67" x="132" y="766"/><use href="#r111" x="138" y="766"/><use href="#r101" x="144" y="766"/><use href="#r50" x="150" y="766"/><use href="#r48" x="156" y="766"/><use href="#r49" x="162" y="766"/><use href="#r52" x="168" y="766"/><use href="#r41" x="174" y="766"/><use href="#r100" x="60" y="787"/><use href="#r103" x="66" y="787"/><use href="#r118" x="72" y="787"/><use href="#r49" x="78" y="787"/><use href="#r56" x="84" y="787"/><use href="#r54" x="90" y="787"/><use href="#r110" x="96" y="787"/><use href="#r49" x="102" y="787"/><use href="#r52" x="108" y="787"/><use href="#r53" x="114" y="787"/><use href="#r40" x="126" y="787"/><use href="#r76" x="132" y="787"/><use href="#r117" x="138" y="787"/><use href="#r50" x="144" y="787"/><use href="#r48" x="150" y="787"/><use href="#r49" x="156" y="787"/><use href="#r55" x="162" y="787"/><use href="#r41" x="168" y="787"/><use href="#r100" x="60" y="808"/><use href="#r103" x="66" y="808"/><use href="#r118" x="72" y="808"/><use href="#r57" x="78" y="808"/><use href="#r101" x="84" y="808"/><use href="#r50" x="90" y="808"/><use href="#r49" x="96" y="808"/><use href="#r51" x="102" y="808"/><use href="#r40" x="114" y="808"/><use href="#r77" x="120" y="808"/><use href="#r111" x="126" y="808"/><use href="#r107" x="132" y="808"/><use href="#r104" x="138" y="808"/><use href="#r116" x="144" y="808"/><use href="#r97" x="150" y="808"/><use href="#r114" x="156" y="808"/><use href="#r50" x="162" y="808"/><use href="#r48" x="168" y="808"/><use href="#r49" x="174" y="808"/><use href="#r52" x="180" y="808"/><use href="#r41" x="186" y="808"/><use href="#r110" x="60" y="829"/><use href="#r115" x="66" y="829"/><use href="#r118" x="72" y="829"/><use href="#r53" x="78" y="829"/><use href="#r48" x="84" y="829"/><use href="#r56" x="90" y="829"/><use href="#r54" x="96" y="829"/><use href="#r49" x="102" y="829"/><use href="#r54" x="108" y="829"/><use href="#r40" x="120" y="829"/><use href="#r84" x="126" y="829"/><use href="#r101" x="132" y="829"/><use href="#r97" x="138" y="829"/><use href="#r103" x="144" y="829"/><use href="#r117" x="150" y="829"/><use href="#r101" x="156" y="829"/><use href="#r50" x="162" y="829"/><use href="#r48" x="168" y="829"/><use href="#r49" x="174" y="829"/><use href="#r48" x="180" y="829"/><use href="#r41" x="186" y="829"/><use href="#r101" x="60" y="850"/><use href="#r115" x="66" y="850"/><use href="#r118" x="72" y="850"/><use href="#r50" x="78" y="850"/><use href="#r53" x="84" y="850"/><use href="#r48" x="90" y="850"/><use href="#r55" x="96" y="850"/><use href="#r53" x="102" y="850"/><use href="#r51" x="108" y="850"/><use href="#r57" x="114" y="850"/><use href="#r40" x="126" y="850"/><use href="#r77" x="132" y="850"/><use href="#r99" x="138" y="850"/><use href="#r75" x="144" y="850"/><use href="#r101" x="150" y="850"/><use href="#r114" x="156" y="850"/><use href="#r110" x="162" y="850"/><use href="#r97" x="168" y="850"/><use href="#r110" x="174" y="850"/><use href="#r50" x="180" y="850"/><use href="#r48" x="186" y="850"/><use href="#r48" x="192" y="850"/><use href="#r57" x="198" y="850"/><use href="#r41" x="204" y="850"/><use href="#r100" x="60" y="871"/><use href="#r103" x="66" y="871"/><use href="#r118" x="72" y="871"/><use href="#r51" x="78" y="871"/><use href="#r49" x="84" y="871"/><use href="#r50" x="90" y="871"/><use href="#r101" x="96" y="871"/><use href="#r50" x="102" y="871"/><use href="#r49" x="108" y="871"/><use href="#r50" x="114" y="871"/><use href="#r40" x="126" y="871"/><use href="#r85" x="132" y="871"/><use href="#r100" x="138" y="871"/><use href="#r100" x="144" y="871"/><use href="#r105" x="150" y="871"/><use href="#r110" x="156" y="871"/><use href="#r50" x="162" y="871"/><use href="#r48" x="168" y="871"/><use href="#r49" x="174" y="871"/><use href="#r52" x="180" y="871"/><use href="#r41" x="186" y="871"/><use href="#r100" x="60" y="892"/><use href="#r103" x="66" y="892"/><use href="#r118" x="72" y="892"/><use href="#r53" x="78" y="892"/><use href="#r110" x="84" y="892"/><use href="#r51" x="90" y="892"/><use href="#r49" x="96" y="892"/><use href="#r40" x="108" y="892"/><use href="#r65" x="114" y="892"/><use href="#r108" x="120" y="892"/><use href="#r107" x="126" y="892"/><use href="#r97" x="132" y="892"/><use href="#r110" x="138" y="892"/><use href="#r50" x="144" y="892"/><use href="#r48" x="150" y="892"/><use href="#r48" x="156" y="892"/><use href="#r57" x="162" y="892"/><use href="#r41" x="168" y="892"/><use href="#r101" x="60" y="913"/><use href="#r115" x="66" y="913"/><use href="#r118" x="72" y="913"/><use href="#r50" x="78" y="913"/><use href="#r54" x="84" y="913"/><use href="#r51" x="90" y="913"/><use href="#r49" x="96" y="913"/><use href="#r52" x="102" y="913"/><use href="#r57" x="108" y="913"/><use href="#r48" x="114" y="913"/><use href="#r40" x="126" y="913"/><use href="#r77" x="132" y="913"/><use href="#r99" x="138" y="913"/><use href="#r75" x="144" y="913"/><use href="#r101" x="150" y="913"/><use href="#r114" x="156" y="913"/><use href="#r110" x="162" y="913"/><use href="#r97" x="168" y="913"/><use href="#r110" x="174" y="913"/><use href="#r50" x="180" y="913"/><use href="#r48" x="186" y="913"/><use href="#r48" x="192" y="913"/><use href="#r57" x="198" y="913"/><use href="#r41" x="204" y="913"/><use href="#r110" x="60" y="934"/><use href="#r115" x="66" y="934"/><use href="#r118" x="72" y="934"/><use href="#r52" x="78" y="934"/><use href="#r51" x="84" y="934"/><use href="#r53" x="90" y="934"/><use href="#r57" x="96" y="934"/><use href="#r50" x="102" y="934"/><use href="#r55" x="108" y="934"/><use href="#r40" x="120" y="934"/><use href="#r75" x="126" y="934"/><use href="#r111" x="132" y="934"/><use href="#r114" x="138" y="934"/><use href="#r98" x="144" y="934"/><use href="#r101" x="150" y="934"/><use href="#r108" x="156" y="934"/><use href="#r50" x="162" y="934"/><use href="#r48" x="168" y="934"/><use href="#r48" x="174" y="934"/><use href="#r55" x="180" y="934"/><use href="#r41" x="186" y="934"/><use href="#r100" x="60" y="955"/><use href="#r103" x="66" y="955"/><use href="#r118" x="72" y="955"/><use href="#r51" x="78" y="955"/><use href="#r49" x="84" y="955"/><use href="#r51" x="90" y="955"/><use href="#r101" x="96" y="955"/><use href="#r50" x="102" y="955"/><use href="#r49" x="108" y="955"/><use href="#r50" x="114" y="955"/><use href="#r40" x="126" y="955"/><use href="#r85" x="132" y="955"/><use href="#r100" x="138" y="955"/><use href="#r100" x="144" y="955"/><use href="#r105" x="150" y="955"/><use href="#r110" x="156" y="955"/><use href="#r50" x="162" y="955"/><use href="#r48" x="168" y="955"/><use href="#r49" x="174" y="955"/><use href="#r52" x="180" y="955"/><use href="#r41" x="186" y="955"/><use href="#r101" x="60" y="976"/><use href="#r115" x="66" y="976"/><use href="#r118" x="72" y="976"/><use href="#r51" x="78" y="976"/><use href="#r53" x="84" y="976"/><use href="#r55" x="90" y="976"/><use href="#r57" x="96" y="976"/><use href="#r51" x="102" y="976"/><use href="#r48" x="108" y="976"/><use href="#r52" x="114" y="976"/><use href="#r40" x="126" y="976"/><use href="#r85" x="132" y="976"/><use href="#r100" x="138" y="976"/><use href="#r100" x="144" y="976"/><use href="#r105" x="150" y="976"/><use href="#r110" x="156" y="976"/><use href="#r50" x="162" y="976"/><use href="#r48" x="168" y="976"/><use href="#r49" x="174" y="976"/><use href="#r52" x="180" y="976"/><use href="#r41" x="186" y="976"/><use href="#r100" x="60" y="997"/><use href="#r103" x="66" y="997"/><use href="#r118" x="72" y="997"/><use href="#r52" x="78" y="997"/><use href="#r51" x="84" y="997"/><use href="#r110" x="90" y="997"/><use href="#r57" x="96" y="997"/><use href="#r55" x="102" y="997"/><use href="#r40" x="114" y="997"/><use href="#r76" x="120" y="997"/><use href="#r111" x="126" y="997"/><use href="#r117" x="132" y="997"/><use href="#r50" x="138" y="997"/><use href="#r48" x="144" y="997"/><use href="#r49" x="150" y="997"/><use href="#r52" x="156" y="997"/><use href="#r41" x="162" y="997"/><use href="#r100" x="60" y="1018"/><use href="#r103" x="66" y="1018"/><use href="#r118" x="72" y="1018"/><use href="#r49" x="78" y="1018"/><use href="#r56" x="84" y="1018"/><use href="#r57" x="90" y="1018"/><use href="#r101" x="96" y="1018"/><use href="#r49" x="102" y="1018"/><use href="#r57" x="108" y="1018"/><use href="#r57" x="114" y="1018"/><use href="#r40" x="126" y="1018"/><use href="#r49" x="132" y="1018"/><use href="#r48" x="138" y="1018"/><use href="#r48" x="144" y="1018"/><use href="#r48" x="150" y="1018"/><use href="#r71" x="156" y="1018"/><use href="#r101" x="162" y="1018"/><use href="#r110" x="168" y="1018"/><use href="#r111" x="174" y="1018"/><use href="#r109" x="180" y="1018"/><use href="#r101" x="186" y="1018"/><use href="#r115" x="192" y="1018"/><use href="#r67" x="198" y="1018"/><use href="#r111" x="204" y="1018"/><use href="#r110" x="210" y="1018"/><use href="#r115" x="216" y="1018"/><use href="#r111" x="222" y="1018"/><use href="#r114" x="228" y="1018"/><use href="#r116" x="234" y="1018"/><use href="#r105" x="240" y="1018"/><use href="#r117" x="246" y="1018"/><use href="#r109" x="252" y="1018"/><use href="#r80" x="258" y="1018"/><use href="#r104" x="264" y="1018"/><use href="#r97" x="270" y="1018"/><use href="#r115" x="276" y="1018"/><use href="#r101" x="282" y="1018"/><use href="#r49" x="288" y="1018"/><use href="#r41" x="294" y="1018"/><use href="#r101" x="60" y="1039"/><use href="#r115" x="66" y="1039"/><use href="#r118" x="72" y="1039"/><use href="#r51" x="78" y="1039"/><use href="#r54" x="84" y="1039"/><use href="#r50" x="90" y="1039"/><use href="#r53" x="96" y="1039"/><use href="#r50" x="102" y="1039"/><use href="#r53" x="108" y="1039"/><use href="#r48" x="114" y="1039"/><use href="#r40" x="126" y="1039"/><use href="#r49" x="132" y="1039"/><use href="#r48" x="138" y="1039"/><use href="#r48" x="144" y="1039"/><use href="#r48" x="150" y="1039"/><use href="#r71" x="156" y="1039"/><use href="#r101" x="162" y="1039"/><use href="#r110" x="168" y="1039"/><use href="#r111" x="174" y="1039"/><use href="#r109" x="180" y="1039"/><use href="#r101" x="186" y="1039"/><use href="#r115" x="192" y="1039"/><use href="#r67" x="198" y="1039"/><use href="#r111" x="204" y="1039"/><use href="#r110" x="210" y="1039"/><use href="#r115" x="216" y="1039"/><use href="#r111" x="222" y="1039"/><use href="#r114" x="228" y="1039"/><use href="#r116" x="234" y="1039"/><use href="#r105" x="240" y="1039"/><use href="#r117" x="246" y="1039"/><use href="#r109" x="252" y="1039"/><use href="#r80" x="258" y="1039"/><use href="#r104" x="264" y="1039"/><use href="#r97" x="270" y="1039"/><use href="#r115" x="276" y="1039"/><use href="#r101" x="282" y="1039"/><use href="#r51" x="288" y="1039"/><use href="#r41" x="294" y="1039"/><use href="#r110" x="60" y="1060"/><use href="#r115" x="66" y="1060"/><use href="#r118" x="72" y="1060"/><use href="#r57" x="78" y="1060"/><use href="#r53" x="84" y="1060"/><use href="#r49" x="90" y="1060"/><use href="#r51" x="96" y="1060"/><use href="#r48" x="102" y="1060"/><use href="#r49" x="108" y="1060"/><use href="#r40" x="120" y="1060"/><use href="#r68" x="126" y="1060"/><use href="#r111" x="132" y="1060"/><use href="#r103" x="138" y="1060"/><use href="#r97" x="144" y="1060"/><use href="#r110" x="150" y="1060"/><use href="#r50" x="156" y="1060"/><use href="#r48" x="162" y="1060"/><use href="#r49" x="168" y="1060"/><use href="#r52" x="174" y="1060"/><use href="#r41" x="180" y="1060"/><use href="#r101" x="60" y="1081"/><use href="#r115" x="66" y="1081"/><use href="#r118" x="72" y="1081"/><use href="#r50" x="78" y="1081"/><use href="#r49" x="84" y="1081"/><use href="#r52" x="90" y="1081"/><use href="#r52" x="96" y="1081"/><use href="#r50" x="102" y="1081"/><use href="#r57" x="108" y="1081"/><use href="#r56" x="114" y="1081"/><use href="#r40" x="126" y="1081"/><use href="#r66" x="132" y="1081"/><use href="#r101" x="138" y="1081"/><use href="#r110" x="144" y="1081"/><use href="#r116" x="150" y="1081"/><use href="#r108" x="156" y="1081"/><use href="#r101" x="162" y="1081"/><use href="#r121" x="168" y="1081"/><use href="#r50" x="174" y="1081"/><use href="#r48" x="180" y="1081"/><use href="#r48" x="186" y="1081"/><use href="#r56" x="192" y="1081"/><use href="#r41" x="198" y="1081"/><use href="#r110" x="60" y="1102"/><use href="#r115" x="66" y="1102"/><use href="#r118" x="72" y="1102"/><use href="#r56" x="78" y="1102"/><use href="#r55" x="84" y="1102"/><use href="#r56" x="90" y="1102"/><use href="#r52" x="96" y="1102"/><use href="#r40" x="108" y="1102"/><use href="#r80" x="114" y="1102"/><use href="#r101" x="120" y="1102"/><use href="#r114" x="126" y="1102"/><use href="#r114" x="132" y="1102"/><use href="#r121" x="138" y="1102"/><use href="#r50" x="144" y="1102"/><use href="#r48" x="150" y="1102"/><use href="#r48" x="156" y="1102"/><use href="#r56" x="162" y="1102"/><use href="#r41" x="168" y="1102"/><use href="#r101" x="60" y="1123"/><use href="#r115" x="66" y="1123"/><use href="#r118" x="72" y="1123"/><use href="#r51" x="78" y="1123"/><use href="#r51" x="84" y="1123"/><use href="#r53" x="90" y="1123"/><use href="#r52" x="96" y="1123"/><use href="#r52" x="102" y="1123"/><use href="#r40" x="114" y="1123"/><use href="#r100" x="120" y="1123"/><use href="#r101" x="126" y="1123"/><use href="#r83" x="132" y="1123"/><use href="#r109" x="138" y="1123"/><use href="#r105" x="144" y="1123"/><use href="#r116" x="150" y="1123"/><use href="#r104" x="156" y="1123"/><use href="#r50" x="162" y="1123"/><use href="#r48" x="168" y="1123"/><use href="#r48" x="174" y="1123"/><use href="#r55" x="180" y="1123"/><use href="#r41" x="186" y="1123"/><use href="#r100" x="60" y="1144"/><use href="#r103" x="66" y="1144"/><use href="#r118" x="72" y="1144"/><use href="#r53" x="78" y="1144"/><use href="#r56" x="84" y="1144"/><use href="#r48" x="90" y="1144"/><use href="#r110" x="96" y="1144"/><use href="#r49" x="102" y="1144"/><use href="#r48" x="108" y="1144"/><use href="#r54" x="114" y="1144"/><use href="#r40" x="126" y="1144"/><use href="#r65" x="132" y="1144"/><use href="#r108" x="138" y="1144"/><use href="#r115" x="144" y="1144"/><use href="#r109" x="150" y="1144"/><use href="#r97" x="156" y="1144"/><use href="#r100" x="162" y="1144"/><use href="#r105" x="168" y="1144"/><use href="#r50" x="174" y="1144"/><use href="#r48" x="180" y="1144"/><use href="#r49" x="186" y="1144"/><use href="#r52" x="192" y="1144"/><use href="#r41" x="198" y="1144"/><use href="#r101" x="60" y="1165"/><use href="#r115" x="66" y="1165"/><use href="#r118" x="72" y="1165"/><use href="#r50" x="78" y="1165"/><use href="#r55" x="84" y="1165"/><use href="#r52" x="90" y="1165"/><use href="#r52" x="96" y="1165"/><use href="#r48" x="102" y="1165"/><use href="#r54" x="108" y="1165"/><use href="#r55" x="114" y="1165"/><use href="#r40" x="126" y="1165"/><use href="#r87" x="132" y="1165"/><use href="#r111" x="138" y="1165"/><use href="#r110" x="144" y="1165"/><use href="#r103" x="150" y="1165"/><use href="#r50" x="156" y="1165"/><use href="#r48" x="162" y="1165"/><use href="#r49" x="168" y="1165"/><use href="#r50" x="174" y="1165"/><use href="#r98" x="180" y="1165"/><use href="#r41" x="186" y="1165"/><use href="#r110" x="60" y="1186"/><use href="#r115" x="66" y="1186"/><use href="#r118" x="72" y="1186"/><use href="#r49" x="78" y="1186"/><use href="#r49" x="84" y="1186"/><use href="#r52" x="90" y="1186"/><use href="#r55" x="96" y="1186"/><use href="#r53" x="102" y="1186"/><use href="#r50" x="108" y="1186"/><use href="#r54" x="114" y="1186"/><use href="#r40" x="126" y="1186"/><use href="#r74" x="132" y="1186"/><use href="#r111" x="138" y="1186"/><use href="#r104" x="144" y="1186"/><use href="#r110" x="150" y="1186"/><use href="#r50" x="156" y="1186"/><use href="#r48" x="162" y="1186"/><use href="#r49" x="168" y="1186"/><use href="#r52" x="174" y="1186"/><use href="#r41" x="180" y="1186"/><use href="#r110" x="60" y="1207"/><use href="#r115" x="66" y="1207"/><use href="#r118" x="72" y="1207"/><use href="#r49" x="78" y="1207"/><use href="#r48" x="84" y="1207"/><use href="#r55" x="90" y="1207"/><use href="#r54" x="96" y="1207"/><use href="#r50" x="102" y="1207"/><use href="#r51" x="108" y="1207"/><use href="#r55" x="114" y="1207"/><use href="#r40" x="126" y="1207"/><use href="#r84" x="132" y="1207"/><use href="#r104" x="138" y="1207"/><use href="#r97" x="144" y="1207"/><use href="#r114" x="150" y="1207"/><use href="#r101" x="156" y="1207"/><use href="#r106" x="162" y="1207"/><use href="#r97" x="168" y="1207"/><use href="#r50" x="174" y="1207"/><use href="#r48" x="180" y="1207"/><use href="#r49" x="186" y="1207"/><use href="#r53" x="192" y="1207"/><use href="#r41" x="198" y="1207"/><use href="#r110" x="60" y="1228"/><use href="#r115" x="66" y="1228"/><use href="#r118" x="72" y="1228"/><use href="#r54" x="78" y="1228"/><use href="#r49" x="84" y="1228"/><use href="#r52" x="90" y="1228"/><use href="#r51" x="96" y="1228"/><use href="#r49" x="102" y="1228"/><use href="#r49" x="108" y="1228"/><use href="#r48" x="114" y="1228"/><use href="#r40" x="126" y="1228"/><use href="#r66" x="132" y="1228"/><use href="#r121" x="138" y="1228"/><use href="#r114" x="144" y="1228"/><use href="#r115" x="150" y="1228"/><use href="#r107" x="156" y="1228"/><use href="#r97" x="162" y="1228"/><use href="#r66" x="168" y="1228"/><use href="#r105" x="174" y="1228"/><use href="#r115" x="180" y="1228"/><use href="#r104" x="186" y="1228"/><use href="#r111" x="192" y="1228"/><use href="#r112" x="198" y="1228"/><use href="#r50" x="204" y="1228"/><use href="#r48" x="210" y="1228"/><use href="#r50" x="216" y="1228"/><use href="#r50" x="222" y="1228"/><use href="#r41" x="228" y="1228"/><use href="#r110" x="236" y="1228"/><use href="#r115" x="242" y="1228"/><use href="#r118" x="248" y="1228"/><use href="#r51" x="254" y="1228"/><use href="#r49" x="260" y="1228"/><use href="#r49" x="266" y="1228"/><use href="#r52" x="272" y="1228"/><use href="#r57" x="278" y="1228"/><use href="#r56" x="284" y="1228"/><use href="#r50" x="290" y="1228"/><use href="#r40" x="302" y="1228"/><use href="#r76" x="308" y="1228"/><use href="#r117" x="314" y="1228"/><use href="#r50" x="320" y="1228"/><use href="#r48" x="326" y="1228"/><use href="#r49" x="332" y="1228"/><use href="#r55" x="338" y="1228"/><use href="#r41" x="344" y="1228"/><use href="#r110" x="60" y="1249"/><use href="#r115" x="66" y="1249"/><use href="#r118" x="72" y="1249"/><use href="#r52" x="78" y="1249"/><use href="#r50" x="84" y="1249"/><use href="#r48" x="90" y="1249"/><use href="#r53" x="96" y="1249"/><use href="#r53" x="102" y="1249"/><use href="#r48" x="108" y="1249"/><use href="#r51" x="114" y="1249"/><use href="#r40" x="126" y="1249"/><use href="#r103" x="132" y="1249"/><use href="#r110" x="138" y="1249"/><use href="#r111" x="144" y="1249"/><use href="#r109" x="150" y="1249"/><use href="#r65" x="156" y="1249"/><use href="#r68" x="162" y="1249"/><use href="#r83" x="168" y="1249"/><use href="#r116" x="174" y="1249"/><use href="#r114" x="180" y="1249"/><use href="#r117" x="186" y="1249"/><use href="#r99" x="192" y="1249"/><use href="#r116" x="198" y="1249"/><use href="#r117" x="204" y="1249"/><use href="#r114" x="210" y="1249"/><use href="#r97" x="216" y="1249"/><use href="#r108" x="222" y="1249"/><use href="#r86" x="228" y="1249"/><use href="#r97" x="234" y="1249"/><use href="#r114" x="240" y="1249"/><use href="#r105" x="246" y="1249"/><use href="#r97" x="252" y="1249"/><use href="#r110" x="258" y="1249"/><use href="#r116" x="264" y="1249"/><use href="#r115" x="270" y="1249"/><use href="#r41" x="276" y="1249"/><use href="#r100" x="60" y="1270"/><use href="#r103" x="66" y="1270"/><use href="#r118" x="72" y="1270"/><use href="#r49" x="78" y="1270"/><use href="#r50" x="84" y="1270"/><use href="#r51" x="90" y="1270"/><use href="#r110" x="96" y="1270"/><use href="#r49" x="102" y="1270"/><use href="#r55" x="108" y="1270"/><use href="#r50" x="114" y="1270"/><use href="#r40" x="126" y="1270"/><use href="#r68" x="132" y="1270"/><use href="#r101" x="138" y="1270"/><use href="#r110" x="144" y="1270"/><use href="#r103" x="150" y="1270"/><use href="#r50" x="156" y="1270"/><use href="#r48" x="162" y="1270"/><use href="#r49" x="168" y="1270"/><use href="#r57" x="174" y="1270"/><use href="#r41" x="180" y="1270"/><use href="#r110" x="60" y="1291"/><use href="#r115" x="66" y="1291"/><use href="#r118" x="72" y="1291"/><use href="#r52" x="78" y="1291"/><use href="#r57" x="84" y="1291"/><use href="#r56" x="90" y="1291"/><use href="#r55" x="96" y="1291"/><use href="#r52" x="102" y="1291"/><use href="#r57" x="108" y="1291"/><use href="#r40" x="120" y="1291"/><use href="#r75" x="126" y="1291"/><use href="#r105" x="132" y="1291"/><use href="#r100" x="138" y="1291"/><use href="#r100" x="144" y="1291"/><use href="#r50" x="150" y="1291"/><use href="#r48" x="156" y="1291"/><use href="#r49" x="162" y="1291"/><use href="#r48" x="168" y="1291"/><use href="#r98" x="174" y="1291"/><use href="#r41" x="180" y="1291"/><use href="#r110" x="60" y="1312"/><use href="#r115" x="66" y="1312"/><use href="#r118" x="72" y="1312"/><use href="#r51" x="78" y="1312"/><use href="#r50" x="84" y="1312"/><use href="#r49" x="90" y="1312"/><use href="#r48" x="96" y="1312"/><use href="#r56" x="102" y="1312"/><use href="#r48" x="108" y="1312"/><use href="#r55" x="114" y="1312"/><use href="#r40" x="126" y="1312"/><use href="#r67" x="132" y="1312"/><use href="#r104" x="138" y="1312"/><use href="#r97" x="144" y="1312"/><use href="#r105" x="150" y="1312"/><use href="#r115" x="156" y="1312"/><use href="#r115" x="162" y="1312"/><use href="#r111" x="168" y="1312"/><use href="#r110" x="174" y="1312"/><use href="#r50" x="180" y="1312"/><use href="#r48" x="186" y="1312"/><use href="#r49" x="192" y="1312"/><use href="#r57" x="198" y="1312"/><use href="#r41" x="204" y="1312"/><use href="#r110" x="60" y="1333"/><use href="#r115" x="66" y="1333"/><use href="#r118" x="72" y="1333"/><use href="#r53" x="78" y="1333"/><use href="#r57" x="84" y="1333"/><use href="#r50" x="90" y="1333"/><use href="#r53" x="96" y="1333"/><use href="#r50" x="102" y="1333"/><use href="#r53" x="108" y="1333"/><use href="#r51" x="114" y="1333"/><use href="#r40" x="126" y="1333"/><use href="#r65" x="132" y="1333"/><use href="#r108" x="138" y="1333"/><use href="#r109" x="144" y="1333"/><use href="#r97" x="150" y="1333"/><use href="#r114" x="156" y="1333"/><use href="#r114" x="162" y="1333"/><use href="#r105" x="168" y="1333"/><use href="#r50" x="174" y="1333"/><use href="#r48" x="180" y="1333"/><use href="#r50" x="186" y="1333"/><use href="#r48" x="192" y="1333"/><use href="#r41" x="198" y="1333"/><use href="#r110" x="60" y="1354"/><use href="#r115" x="66" y="1354"/><use href="#r118" x="72" y="1354"/><use href="#r53" x="78" y="1354"/><use href="#r53" x="84" y="1354"/><use href="#r48" x="90" y="1354"/><use href="#r56" x="96" y="1354"/><use href="#r50" x="102" y="1354"/><use href="#r51" x="108" y="1354"/><use href="#r48" x="114" y="1354"/><use href="#r40" x="126" y="1354"/><use href="#r66" x="132" y="1354"/><use href="#r121" x="138" y="1354"/><use href="#r114" x="144" y="1354"/><use href="#r115" x="150" y="1354"/><use href="#r107" x="156" y="1354"/><use href="#r97" x="162" y="1354"/><use href="#r66" x="168" y="1354"/><use href="#r105" x="174" y="1354"/><use href="#r115" x="180" y="1354"/><use href="#r104" x="186" y="1354"/><use href="#r111" x="192" y="1354"/><use href="#r112" x="198" y="1354"/><use href="#r50" x="204" y="1354"/><use href="#r48" x="210" y="1354"/><use href="#r50" x="216" y="1354"/><use href="#r50" x="222" y="1354"/><use href="#r41" x="228" y="1354"/><use href="#r110" x="60" y="1375"/><use href="#r115" x="66" y="1375"/><use href="#r118" x="72" y="1375"/><use href="#r52" x="78" y="1375"/><use href="#r52" x="84" y="1375"/><use href="#r51" x="90" y="1375"/><use href="#r48" x="96" y="1375"/><use href="#r48" x="102" y="1375"/><use href="#r49" x="108" y="1375"/><use href="#r40" x="120" y="1375"/><use href="#r89" x="126" y="1375"/><use href="#r111" x="132" y="1375"/><use href="#r117" x="138" y="1375"/><use href="#r110" x="144" y="1375"/><use href="#r103" x="150" y="1375"/><use href="#r50" x="156" y="1375"/><use href="#r48" x="162" y="1375"/><use href="#r48" x="168" y="1375"/><use href="#r56" x="174" y="1375"/><use href="#r41" x="180" y="1375"/><use href="#r110" x="60" y="1396"/><use href="#r115" x="66" y="1396"/><use href="#r118" x="72" y="1396"/><use href="#r52" x="78" y="1396"/><use href="#r55" x="84" y="1396"/><use href="#r52" x="90" y="1396"/><use href="#r53" x="96" y="1396"/><use href="#r54" x="102" y="1396"/><use href="#r55" x="108" y="1396"/><use href="#r48" x="114" y="1396"/><use href="#r40" x="126" y="1396"/><use href="#r81" x="132" y="1396"/><use href="#r117" x="138" y="1396"/><use href="#r97" x="144" y="1396"/><use href="#r110" x="150" y="1396"/><use href="#r50" x="156" y="1396"/><use href="#r48" x="162" y="1396"/><use href="#r50" x="168" y="1396"/><use href="#r49" x="174" y="1396"/><use href="#r41" x="180" y="1396"/><use href="#r110" x="60" y="1417"/><use href="#r115" x="66" y="1417"/><use href="#r118" x="72" y="1417"/><use href="#r53" x="78" y="1417"/><use href="#r53" x="84" y="1417"/><use href="#r56" x="90" y="1417"/><use href="#r54" x="96" y="1417"/><use href="#r54" x="102" y="1417"/><use href="#r56" x="108" y="1417"/><use href="#r49" x="114" y="1417"/><use href="#r40" x="126" y="1417"/><use href="#r69" x="132" y="1417"/><use href="#r98" x="138" y="1417"/><use href="#r101" x="144" y="1417"/><use href="#r114" x="150" y="1417"/><use href="#r116" x="156" y="1417"/><use href="#r50" x="162" y="1417"/><use href="#r48" x="168" y="1417"/><use href="#r50" x="174" y="1417"/><use href="#r49" x="180" y="1417"/><use href="#r41" x="186" y="1417"/><use href="#r110" x="60" y="1438"/><use href="#r115" x="66" y="1438"/><use href="#r118" x="72" y="1438"/><use href="#r54" x="78" y="1438"/><use href="#r48" x="84" y="1438"/><use href="#r50" x="90" y="1438"/><use href="#r50" x="96" y="1438"/><use href="#r57" x="102" y="1438"/><use href="#r56" x="108" y="1438"/><use href="#r54" x="114" y="1438"/><use href="#r40" x="126" y="1438"/><use href="#r87" x="132" y="1438"/><use href="#r117" x="138" y="1438"/><use href="#r50" x="144" y="1438"/><use href="#r48" x="150" y="1438"/><use href="#r50" x="156" y="1438"/><use href="#r49" x="162" y="1438"/><use href="#r41" x="168" y="1438"/><use href="#r110" x="60" y="1459"/><use href="#r115" x="66" y="1459"/><use href="#r118" x="72" y="1459"/><use href="#r53" x="78" y="1459"/><use href="#r56" x="84" y="1459"/><use href="#r53" x="90" y="1459"/><use href="#r50" x="96" y="1459"/><use href="#r51" x="102" y="1459"/><use href="#r57" x="108" y="1459"/><use href="#r57" x="114" y="1459"/><use href="#r40" x="126" y="1459"/><use href="#r65" x="132" y="1459"/><use href="#r108" x="138" y="1459"/><use href="#r109" x="144" y="1459"/><use href="#r97" x="150" y="1459"/><use href="#r114" x="156" y="1459"/><use href="#r114" x="162" y="1459"/><use href="#r105" x="168" y="1459"/><use href="#r50" x="174" y="1459"/><use href="#r48" x="180" y="1459"/><use href="#r50" x="186" y="1459"/><use href="#r48" x="192" y="1459"/><use href="#r41" x="198" y="1459"/><use href="#r100" x="60" y="1480"/><use href="#r103" x="66" y="1480"/><use href="#r118" x="72" y="1480"/><use href="#r50" x="78" y="1480"/><use href="#r48" x="84" y="1480"/><use href="#r101" x="90" y="1480"/><use href="#r49" x="96" y="1480"/><use href="#r56" x="102" y="1480"/><use href="#r48" x="108" y="1480"/><use href="#r40" x="120" y="1480"/><use href="#r80" x="126" y="1480"/><use href="#r97" x="132" y="1480"/><use href="#r110" x="138" y="1480"/><use href="#r103" x="144" y="1480"/><use href="#r50" x="150" y="1480"/><use href="#r48" x="156" y="1480"/><use href="#r49" x="162" y="1480"/><use href="#r48" x="168" y="1480"/><use href="#r41" x="174" y="1480"/><use href="#r100" x="60" y="1501"/><use href="#r103" x="66" y="1501"/><use href="#r118" x="72" y="1501"/><use href="#r49" x="78" y="1501"/><use href="#r57" x="84" y="1501"/><use href="#r55" x="90" y="1501"/><use href="#r110" x="96" y="1501"/><use href="#r54" x="102" y="1501"/><use href="#r55" x="108" y="1501"/><use href="#r40" x="120" y="1501"/><use href="#r80" x="126" y="1501"/><use href="#r97" x="132" y="1501"/><use href="#r114" x="138" y="1501"/><use href="#r107" x="144" y="1501"/><use href="#r50" x="150" y="1501"/><use href="#r48" x="156" y="1501"/><use href="#r49" x="162" y="1501"/><use href="#r48" x="168" y="1501"/><use href="#r41" x="174" y="1501"/><use href="#r110" x="60" y="1522"/><use href="#r115" x="66" y="1522"/><use href="#r118" x="72" y="1522"/><use href="#r56" x="78" y="1522"/><use href="#r50" x="84" y="1522"/><use href="#r49" x="90" y="1522"/><use href="#r48" x="96" y="1522"/><use href="#r50" x="102" y="1522"/><use href="#r56" x="108" y="1522"/><use href="#r40" x="120" y="1522"/><use href="#r74" x="126" y="1522"/><use href="#r117" x="132" y="1522"/><use href="#r50" x="138" y="1522"/><use href="#r48" x="144" y="1522"/><use href="#r49" x="150" y="1522"/><use href="#r48" x="156" y="1522"/><use href="#r41" x="162" y="1522"/><use href="#r110" x="60" y="1543"/><use href="#r115" x="66" y="1543"/><use href="#r118" x="72" y="1543"/><use href="#r56" x="78" y="1543"/><use href="#r49" x="84" y="1543"/><use href="#r57" x="90" y="1543"/><use href="#r52" x="96" y="1543"/><use href="#r51" x="102" y="1543"/><use href="#r48" x="108" y="1543"/><use href="#r40" x="120" y="1543"/><use href="#r75" x="126" y="1543"/><use href="#r105" x="132" y="1543"/><use href="#r109" x="138" y="1543"/><use href="#r50" x="144" y="1543"/><use href="#r48" x="150" y="1543"/><use href="#r48" x="156" y="1543"/><use href="#r57" x="162" y="1543"/><use href="#r41" x="168" y="1543"/><use href="#r101" x="60" y="1564"/><use href="#r115" x="66" y="1564"/><use href="#r118" x="72" y="1564"/><use href="#r50" x="78" y="1564"/><use href="#r56" x="84" y="1564"/><use href="#r50" x="90" y="1564"/><use href="#r54" x="96" y="1564"/><use href="#r53" x="102" y="1564"/><use href="#r40" x="114" y="1564"/><use href="#r67" x="120" y="1564"/><use href="#r111" x="126" y="1564"/><use href="#r110" x="132" y="1564"/><use href="#r114" x="138" y="1564"/><use href="#r97" x="144" y="1564"/><use href="#r100" x="150" y="1564"/><use href="#r50" x="156" y="1564"/><use href="#r48" x="162" y="1564"/><use href="#r48" x="168" y="1564"/><use href="#r57" x="174" y="1564"/><use href="#r41" x="180" y="1564"/><use href="#r110" x="60" y="1585"/><use href="#r115" x="66" y="1585"/><use href="#r118" x="72" y="1585"/><use href="#r53" x="78" y="1585"/><use href="#r49" x="84" y="1585"/><use href="#r52" x="90" y="1585"/><use href="#r54" x="96" y="1585"/><use href="#r50" x="102" y="1585"/><use href="#r52" x="108" y="1585"/><use href="#r40" x="120" y="1585"/><use href="#r67" x="126" y="1585"/><use href="#r97" x="132" y="1585"/><use href="#r109" x="138" y="1585"/><use href="#r112" x="144" y="1585"/><use href="#r98" x="150" y="1585"/><use href="#r101" x="156" y="1585"/><use href="#r108" x="162" y="1585"/><use href="#r108" x="168" y="1585"/><use href="#r50" x="174" y="1585"/><use href="#r48" x="180" y="1585"/><use href="#r49" x="186" y="1585"/><use href="#r49" x="192" y="1585"/><use href="#r41" x="198" y="1585"/><use href="#r100" x="60" y="1606"/><use href="#r103" x="66" y="1606"/><use href="#r118" x="72" y="1606"/><use href="#r49" x="78" y="1606"/><use href="#r54" x="84" y="1606"/><use href="#r49" x="90" y="1606"/><use href="#r56" x="96" y="1606"/><use href="#r110" x="102" y="1606"/><use href="#r53" x="108" y="1606"/><use href="#r52" x="114" y="1606"/><use href="#r40" x="126" y="1606"/><use href="#r67" x="132" y="1606"/><use href="#r111" x="138" y="1606"/><use href="#r111" x="144" y="1606"/><use href="#r112" x="150" y="1606"/><use href="#r101" x="156" y="1606"/><use href="#r114" x="162" y="1606"/><use href="#r50" x="168" y="1606"/><use href="#r48" x="174" y="1606"/><use href="#r49" x="180" y="1606"/><use href="#r49" x="186" y="1606"/><use href="#r41" x="192" y="1606"/><use href="#r100" x="60" y="1627"/><use href="#r103" x="66" y="1627"/><use href="#r118" x="72" y="1627"/><use href="#r49" x="78" y="1627"/><use href="#r54" x="84" y="1627"/><use href="#r49" x="90" y="1627"/><use href="#r57" x="96" y="1627"/><use href="#r110" x="102" y="1627"/><use href="#r53" x="108" y="1627"/><use href="#r52" x="114" y="1627"/><use href="#r40" x="126" y="1627"/><use href="#r67" x="132" y="1627"/><use href="#r111" x="138" y="1627"/><use href="#r111" x="144" y="1627"/><use href="#r112" x="150" y="1627"/><use href="#r101" x="156" y="1627"/><use href="#r114" x="162" y="1627"/><use href="#r50" x="168" y="1627"/><use href="#r48" x="174" y="1627"/><use href="#r49" x="180" y="1627"/><use href="#r49" x="186" y="1627"/><use href="#r41" x="192" y="1627"/><use href="#r101" x="60" y="1648"/><use href="#r115" x="66" y="1648"/><use href="#r118" x="72" y="1648"/><use href="#r50" x="78" y="1648"/><use href="#r52" x="84" y="1648"/><use href="#r50" x="90" y="1648"/><use href="#r49" x="96" y="1648"/><use href="#r54" x="102" y="1648"/><use href="#r49" x="108" y="1648"/><use href="#r52" x="114" y="1648"/><use href="#r40" x="126" y="1648"/><use href="#r65" x="132" y="1648"/><use href="#r108" x="138" y="1648"/><use href="#r116" x="144" y="1648"/><use href="#r115" x="150" y="1648"/><use href="#r104" x="156" y="1648"/><use href="#r117" x="162" y="1648"/><use href="#r108" x="168" y="1648"/><use href="#r101" x="174" y="1648"/><use href="#r114" x="180" y="1648"/><use href="#r50" x="186" y="1648"/><use href="#r48" x="192" y="1648"/><use href="#r49" x="198" y="1648"/><use href="#r48" x="204" y="1648"/><use href="#r41" x="210" y="1648"/><use href="#r110" x="60" y="1669"/><use href="#r115" x="66" y="1669"/><use href="#r118" x="72" y="1669"/><use href="#r52" x="78" y="1669"/><use href="#r51" x="84" y="1669"/><use href="#r51" x="90" y="1669"/><use href="#r53" x="96" y="1669"/><use href="#r49" x="102" y="1669"/><use href="#r52" x="108" y="1669"/><use href="#r40" x="120" y="1669"/><use href="#r67" x="126" y="1669"/><use href="#r111" x="132" y="1669"/><use href="#r111" x="138" y="1669"/><use href="#r112" x="144" y="1669"/><use href="#r101" x="150" y="1669"/><use href="#r114" x="156" y="1669"/><use href="#r50" x="162" y="1669"/><use href="#r48" x="168" y="1669"/><use href="#r48" x="174" y="1669"/><use href="#r56" x="180" y="1669"/><use href="#r41" x="186" y="1669"/><use href="#r100" x="308" y="1669"/><use href="#r103" x="314" y="1669"/><use href="#r118" x="320" y="1669"/><use href="#r49" x="326" y="1669"/><use href="#r56" x="332" y="1669"/><use href="#r57" x="338" y="1669"/><use href="#r110" x="344" y="1669"/><use href="#r49" x="350" y="1669"/><use href="#r52" x="356" y="1669"/><use href="#r53" x="362" y="1669"/><use href="#r40" x="374" y="1669"/><use href="#r76" x="380" y="1669"/><use href="#r117" x="386" y="1669"/><use href="#r50" x="392" y="1669"/><use href="#r48" x="398" y="1669"/><use href="#r49" x="404" y="1669"/><use href="#r55" x="410" y="1669"/><use href="#r41" x="416" y="1669"/><use href="#r110" x="60" y="1690"/><use href="#r115" x="66" y="1690"/><use href="#r118" x="72" y="1690"/><use href="#r51" x="78" y="1690"/><use href="#r49" x="84" y="1690"/><use href="#r49" x="90" y="1690"/><use href="#r56" x="96" y="1690"/><use href="#r49" x="102" y="1690"/><use href="#r53" x="108" y="1690"/><use href="#r52" x="114" y="1690"/><use href="#r40" x="126" y="1690"/><use href="#r76" x="132" y="1690"/><use href="#r117" x="138" y="1690"/><use href="#r50" x="144" y="1690"/><use href="#r48" x="150" y="1690"/><use href="#r49" x="156" y="1690"/><use href="#r55" x="162" y="1690"/><use href="#r41" x="168" y="1690"/><use href="#r100" x="251" y="1690"/><use href="#r103" x="257" y="1690"/><use href="#r118" x="263" y="1690"/><use href="#r51" x="269" y="1690"/><use href="#r49" x="275" y="1690"/><use href="#r56" x="281" y="1690"/><use href="#r101" x="287" y="1690"/><use href="#r50" x="293" y="1690"/><use href="#r49" x="299" y="1690"/><use href="#r50" x="305" y="1690"/><use href="#r40" x="317" y="1690"/><use href="#r85" x="323" y="1690"/><use href="#r100" x="329" y="1690"/><use href="#r100" x="335" y="1690"/><use href="#r105" x="341" y="1690"/><use href="#r110" x="347" y="1690"/><use href="#r50" x="353" y="1690"/><use href="#r48" x="359" y="1690"/><use href="#r49" x="365" y="1690"/><use href="#r52" x="371" y="1690"/><use href="#r41" x="377" y="1690"/><use href="#r100" x="60" y="1711"/><use href="#r103" x="66" y="1711"/><use href="#r118" x="72" y="1711"/><use href="#r49" x="78" y="1711"/><use href="#r54" x="84" y="1711"/><use href="#r50" x="90" y="1711"/><use href="#r48" x="96" y="1711"/><use href="#r110" x="102" y="1711"/><use href="#r53" x="108" y="1711"/><use href="#r52" x="114" y="1711"/><use href="#r40" x="126" y="1711"/><use href="#r67" x="132" y="1711"/><use href="#r111" x="138" y="1711"/><use href="#r111" x="144" y="1711"/><use href="#r112" x="150" y="1711"/><use href="#r101" x="156" y="1711"/><use href="#r114" x="162" y="1711"/><use href="#r50" x="168" y="1711"/><use href="#r48" x="174" y="1711"/><use href="#r49" x="180" y="1711"/><use href="#r49" x="186" y="1711"/><use href="#r41" x="192" y="1711"/><use href="#r100" x="60" y="1732"/><use href="#r103" x="66" y="1732"/><use href="#r118" x="72" y="1732"/><use href="#r49" x="78" y="1732"/><use href="#r48" x="84" y="1732"/><use href="#r52" x="90" y="1732"/><use href="#r55" x="96" y="1732"/><use href="#r110" x="102" y="1732"/><use href="#r49" x="108" y="1732"/><use href="#r48" x="114" y="1732"/><use href="#r48" x="120" y="1732"/><use href="#r40" x="132" y="1732"/><use href="#r67" x="138" y="1732"/><use href="#r111" x="144" y="1732"/><use href="#r101" x="150" y="1732"/><use href="#r50" x="156" y="1732"/><use href="#r48" x="162" y="1732"/><use href="#r49" x="168" y="1732"/><use href="#r52" x="174" y="1732"/><use href="#r41" x="180" y="1732"/><use href="#r100" x="60" y="1753"/><use href="#r103" x="66" y="1753"/><use href="#r118" x="72" y="1753"/><use href="#r49" x="78" y="1753"/><use href="#r48" x="84" y="1753"/><use href="#r52" x="90" y="1753"/><use href="#r56" x="96" y="1753"/><use href="#r110" x="102" y="1753"/><use href="#r49" x="108" y="1753"/><use href="#r48" x="114" y="1753"/><use href="#r48" x="120" y="1753"/><use href="#r40" x="132" y="1753"/><use href="#r67" x="138" y="1753"/><use href="#r111" x="144" y="1753"/><use href="#r101" x="150" y="1753"/><use href="#r50" x="156" y="1753"/><use href="#r48" x="162" y="1753"/><use href="#r49" x="168" y="1753"/><use href="#r52" x="174" y="1753"/><use href="#r41" x="180" y="1753"/><use href="#r100" x="60" y="1774"/><use href="#r103" x="66" y="1774"/><use href="#r118" x="72" y="1774"/><use href="#r49" x="78" y="1774"/><use href="#r48" x="84" y="1774"/><use href="#r52" x="90" y="1774"/><use href="#r57" x="96" y="1774"/><use href="#r110" x="102" y="1774"/><use href="#r49" x="108" y="1774"/><use href="#r48" x="114" y="1774"/><use href="#r48" x="120" y="1774"/><use href="#r40" x="132" y="1774"/><use href="#r67" x="138" y="1774"/><use href="#r111" x="144" y="1774"/><use href="#r101" x="150" y="1774"/><use href="#r50" x="156" y="1774"/><use href="#r48" x="162" y="1774"/><use href="#r49" x="168" y="1774"/><use href="#r52" x="174" y="1774"/><use href="#r41" x="180" y="1774"/><use href="#r100" x="60" y="1795"/><use href="#r103" x="66" y="1795"/><use href="#r118" x="72" y="1795"/><use href="#r52" x="78" y="1795"/><use href="#r52" x="84" y="1795"/><use href="#r110" x="90" y="1795"/><use href="#r57" x="96" y="1795"/><use href="#r55" x="102" y="1795"/><use href="#r40" x="114" y="1795"/><use href="#r76" x="120" y="1795"/><use href="#r111" x="126" y="1795"/><use href="#r117" x="132" y="1795"/><use href="#r50" x="138" y="1795"/><use href="#r48" x="144" y="1795"/><use href="#r49" x="150" y="1795"/><use href="#r52" x="156" y="1795"/><use href="#r41" x="162" y="1795"/><use href="#r110" x="60" y="1816"/><use href="#r115" x="66" y="1816"/><use href="#r118" x="72" y="1816"/><use href="#r49" x="78" y="1816"/><use href="#r49" x="84" y="1816"/><use href="#r53" x="90" y="1816"/><use href="#r57" x="96" y="1816"/><use href="#r56" x="102" y="1816"/><use href="#r50" x="108" y="1816"/><use href="#r50" x="114" y="1816"/><use href="#r40" x="126" y="1816"/><use href="#r76" x="132" y="1816"/><use href="#r111" x="138" y="1816"/><use href="#r117" x="144" y="1816"/><use href="#r50" x="150" y="1816"/><use href="#r48" x="156" y="1816"/><use href="#r49" x="162" y="1816"/><use href="#r53" x="168" y="1816"/><use href="#r41" x="174" y="1816"/><use href="#r100" x="60" y="1837"/><use href="#r103" x="66" y="1837"/><use href="#r118" x="72" y="1837"/><use href="#r49" x="78" y="1837"/><use href="#r48" x="84" y="1837"/><use href="#r53" x="90" y="1837"/><use href="#r48" x="96" y="1837"/><use href="#r110" x="102" y="1837"/><use href="#r49" x="108" y="1837"/><use href="#r48" x="114" y="1837"/><use href="#r48" x="120" y="1837"/><use href="#r40" x="132" y="1837"/><use href="#r67" x="138" y="1837"/><use href="#r111" x="144" y="1837"/><use href="#r101" x="150" y="1837"/><use href="#r50" x="156" y="1837"/><use href="#r48" x="162" y="1837"/><use href="#r49" x="168" y="1837"/><use href="#r52" x="174" y="1837"/><use href="#r41" x="180" y="1837"/><use href="#r100" x="60" y="1858"/><use href="#r103" x="66" y="1858"/><use href="#r118" x="72" y="1858"/><use href="#r49" x="78" y="1858"/><use href="#r48" x="84" y="1858"/><use href="#r53" x="90" y="1858"/><use href="#r49" x="96" y="1858"/><use href="#r110" x="102" y="1858"/><use href="#r49" x="108" y="1858"/><use href="#r48" x="114" y="1858"/><use href="#r48" x="120" y="1858"/><use href="#r40" x="132" y="1858"/><use href="#r67" x="138" y="1858"/><use href="#r111" x="144" y="1858"/><use href="#r101" x="150" y="1858"/><use href="#r50" x="156" y="1858"/><use href="#r48" x="162" y="1858"/><use href="#r49" x="168" y="1858"/><use href="#r52" x="174" y="1858"/><use href="#r41" x="180" y="1858"/><use href="#r100" x="60" y="1879"/><use href="#r103" x="66" y="1879"/><use href="#r118" x="72" y="1879"/><use href="#r51" x="78" y="1879"/><use href="#r49" x="84" y="1879"/><use href="#r52" x="90" y="1879"/><use href="#r101" x="96" y="1879"/><use href="#r50" x="102" y="1879"/><use href="#r49" x="108" y="1879"/><use href="#r50" x="114" y="1879"/><use href="#r40" x="126" y="1879"/><use href="#r85" x="132" y="1879"/><use href="#r100" x="138" y="1879"/><use href="#r100" x="144" y="1879"/><use href="#r105" x="150" y="1879"/><use href="#r110" x="156" y="1879"/><use href="#r50" x="162" y="1879"/><use href="#r48" x="168" y="1879"/><use href="#r49" x="174" y="1879"/><use href="#r52" x="180" y="1879"/><use href="#r41" x="186" y="1879"/><use href="#r100" x="60" y="1900"/><use href="#r103" x="66" y="1900"/><use href="#r118" x="72" y="1900"/><use href="#r51" x="78" y="1900"/><use href="#r49" x="84" y="1900"/><use href="#r53" x="90" y="1900"/><use href="#r101" x="96" y="1900"/><use href="#r50" x="102" y="1900"/><use href="#r49" x="108" y="1900"/><use href="#r50" x="114" y="1900"/><use href="#r40" x="126" y="1900"/><use href="#r85" x="132" y="1900"/><use href="#r100" x="138" y="1900"/><use href="#r100" x="144" y="1900"/><use href="#r105" x="150" y="1900"/><use href="#r110" x="156" y="1900"/><use href="#r50" x="162" y="1900"/><use href="#r48" x="168" y="1900"/><use href="#r49" x="174" y="1900"/><use href="#r52" x="180" y="1900"/><use href="#r41" x="186" y="1900"/><use href="#r110" x="60" y="1921"/><use href="#r115" x="66" y="1921"/><use href="#r118" x="72" y="1921"/><use href="#r52" x="78" y="1921"/><use href="#r52" x="84" y="1921"/><use href="#r50" x="90" y="1921"/><use href="#r53" x="96" y="1921"/><use href="#r57" x="102" y="1921"/><use href="#r56" x="108" y="1921"/><use href="#r40" x="120" y="1921"/><use href="#r77" x="126" y="1921"/><use href="#r99" x="132" y="1921"/><use href="#r67" x="138" y="1921"/><use href="#r97" x="144" y="1921"/><use href="#r114" x="150" y="1921"/><use href="#r114" x="156" y="1921"/><use href="#r111" x="162" y="1921"/><use href="#r108" x="168" y="1921"/><use href="#r108" x="174" y="1921"/><use href="#r50" x="180" y="1921"/><use href="#r48" x="186" y="1921"/><use href="#r48" x="192" y="1921"/><use href="#r56" x="198" y="1921"/><use href="#r41" x="204" y="1921"/><use href="#r110" x="60" y="1942"/><use href="#r115" x="66" y="1942"/><use href="#r118" x="72" y="1942"/><use href="#r49" x="78" y="1942"/><use href="#r48" x="84" y="1942"/><use href="#r53" x="90" y="1942"/><use href="#r50" x="96" y="1942"/><use href="#r50" x="102" y="1942"/><use href="#r53" x="108" y="1942"/><use href="#r48" x="114" y="1942"/><use href="#r40" x="126" y="1942"/><use href="#r67" x="132" y="1942"/><use href="#r111" x="138" y="1942"/><use href="#r101" x="144" y="1942"/><use href="#r50" x="150" y="1942"/><use href="#r48" x="156" y="1942"/><use href="#r49" x="162" y="1942"/><use href="#r52" x="168" y="1942"/><use href="#r41" x="174" y="1942"/><use href="#r110" x="60" y="1963"/><use href="#r115" x="66" y="1963"/><use href="#r118" x="72" y="1963"/><use href="#r49" x="78" y="1963"/><use href="#r48" x="84" y="1963"/><use href="#r52" x="90" y="1963"/><use href="#r49" x="96" y="1963"/><use href="#r49" x="102" y="1963"/><use href="#r57" x="108" y="1963"/><use href="#r54" x="114" y="1963"/><use href="#r40" x="126" y="1963"/><use href="#r67" x="132" y="1963"/><use href="#r111" x="138" y="1963"/><use href="#r101" x="144" y="1963"/><use href="#r50" x="150" y="1963"/><use href="#r48" x="156" y="1963"/><use href="#r49" x="162" y="1963"/><use href="#r52" x="168" y="1963"/><use href="#r41" x="174" y="1963"/><use href="#r100" x="60" y="1984"/><use href="#r103" x="66" y="1984"/><use href="#r118" x="72" y="1984"/><use href="#r51" x="78" y="1984"/><use href="#r49" x="84" y="1984"/><use href="#r54" x="90" y="1984"/><use href="#r101" x="96" y="1984"/><use href="#r50" x="102" y="1984"/><use href="#r49" x="108" y="1984"/><use href="#r50" x="114" y="1984"/><use href="#r40" x="126" y="1984"/><use href="#r85" x="132" y="1984"/><use href="#r100" x="138" y="1984"/><use href="#r100" x="144" y="1984"/><use href="#r105" x="150" y="1984"/><use href="#r110" x="156" y="1984"/><use href="#r50" x="162" y="1984"/><use href="#r48" x="168" y="1984"/><use href="#r49" x="174" y="1984"/><use href="#r52" x="180" y="1984"/><use href="#r41" x="186" y="1984"/><use href="#r100" x="60" y="2005"/><use href="#r103" x="66" y="2005"/><use href="#r118" x="72" y="2005"/><use href="#r49" x="78" y="2005"/><use href="#r48" x="84" y="2005"/><use href="#r53" x="90" y="2005"/><use href="#r50" x="96" y="2005"/><use href="#r110" x="102" y="2005"/><use href="#r49" x="108" y="2005"/><use href="#r48" x="114" y="2005"/><use href="#r48" x="120" y="2005"/><use href="#r40" x="132" y="2005"/><use href="#r67" x="138" y="2005"/><use href="#r111" x="144" y="2005"/><use href="#r101" x="150" y="2005"/><use href="#r50" x="156" y="2005"/><use href="#r48" x="162" y="2005"/><use href="#r49" x="168" y="2005"/><use href="#r52" x="174" y="2005"/><use href="#r41" x="180" y="2005"/><use href="#r110" x="60" y="2026"/><use href="#r115" x="66" y="2026"/><use href="#r118" x="72" y="2026"/><use href="#r49" x="78" y="2026"/><use href="#r48" x="84" y="2026"/><use href="#r53" x="90" y="2026"/><use href="#r52" x="96" y="2026"/><use href="#r51" x="102" y="2026"/><use href="#r55" x="108" y="2026"/><use href="#r49" x="114" y="2026"/><use href="#r40" x="126" y="2026"/><use href="#r67" x="132" y="2026"/><use href="#r111" x="138" y="2026"/><use href="#r101" x="144" y="2026"/><use href="#r50" x="150" y="2026"/><use href="#r48" x="156" y="2026"/><use href="#r49" x="162" y="2026"/><use href="#r52" x="168" y="2026"/><use href="#r41" x="174" y="2026"/><use href="#r100" x="60" y="2047"/><use href="#r103" x="66" y="2047"/><use href="#r118" x="72" y="2047"/><use href="#r51" x="78" y="2047"/><use href="#r49" x="84" y="2047"/><use href="#r55" x="90" y="2047"/><use href="#r101" x="96" y="2047"/><use href="#r50" x="102" y="2047"/><use href="#r49" x="108" y="2047"/><use href="#r50" x="114" y="2047"/><use href="#r40" x="126" y="2047"/><use href="#r85" x="132" y="2047"/><use href="#r100" x="138" y="2047"/><use href="#r100" x="144" y="2047"/><use href="#r105" x="150" y="2047"/><use href="#r110" x="156" y="2047"/><use href="#r50" x="162" y="2047"/><use href="#r48" x="168" y="2047"/><use href="#r49" x="174" y="2047"/><use href="#r52" x="180" y="2047"/><use href="#r41" x="186" y="2047"/><use href="#r100" x="60" y="2068"/><use href="#r103" x="66" y="2068"/><use href="#r118" x="72" y="2068"/><use href="#r49" x="78" y="2068"/><use href="#r56" x="84" y="2068"/><use href="#r56" x="90" y="2068"/><use href="#r110" x="96" y="2068"/><use href="#r49" x="102" y="2068"/><use href="#r52" x="108" y="2068"/><use href="#r53" x="114" y="2068"/><use href="#r40" x="126" y="2068"/><use href="#r76" x="132" y="2068"/><use href="#r117" x="138" y="2068"/><use href="#r50" x="144" y="2068"/><use href="#r48" x="150" y="2068"/><use href="#r49" x="156" y="2068"/><use href="#r55" x="162" y="2068"/><use href="#r41" x="168" y="2068"/><use href="#r110" x="92" y="2089"/><use href="#r115" x="98" y="2089"/><use href="#r118" x="104" y="2089"/><use href="#r54" x="110" y="2089"/><use href="#r48" x="116" y="2089"/><use href="#r51" x="122" y="2089"/><use href="#r50" x="128" y="2089"/><use href="#r55" x="134" y="2089"/><use href="#r57" x="140" y="2089"/><use href="#r53" x="146" y="2089"/><use href="#r40" x="158" y="2089"/><use href="#r87" x="164" y="2089"/><use href="#r117" x="170" y="2089"/><use href="#r50" x="176" y="2089"/><use href="#r48" x="182" y="2089"/><use href="#r50" x="188" y="2089"/><use href="#r49" x="194" y="2089"/><use href="#r41" x="200" y="2089"/><use href="#r110" x="209" y="2089"/><use href="#r115" x="215" y="2089"/><use href="#r118" x="221" y="2089"/><use href="#r51" x="227" y="2089"/><use href="#r49" x="233" y="2089"/><use href="#r49" x="239" y="2089"/><use href="#r55" x="245" y="2089"/><use href="#r48" x="251" y="2089"/><use href="#r54" x="257" y="2089"/><use href="#r54" x="263" y="2089"/><use href="#r40" x="275" y="2089"/><use href="#r76" x="281" y="2089"/><use href="#r117" x="287" y="2089"/><use href="#r50" x="293" y="2089"/><use href="#r48" x="299" y="2089"/><use href="#r49" x="305" y="2089"/><use href="#r55" x="311" y="2089"/><use href="#r41" x="317" y="2089"/><use href="#r110" x="92" y="2110"/><use href="#r115" x="98" y="2110"/><use href="#r118" x="104" y="2110"/><use href="#r53" x="110" y="2110"/><use href="#r57" x="116" y="2110"/><use href="#r48" x="122" y="2110"/><use href="#r56" x="128" y="2110"/><use href="#r49" x="134" y="2110"/><use href="#r48" x="140" y="2110"/><use href="#r52" x="146" y="2110"/><use href="#r40" x="158" y="2110"/><use href="#r65" x="164" y="2110"/><use href="#r108" x="170" y="2110"/><use href="#r109" x="176" y="2110"/><use href="#r97" x="182" y="2110"/><use href="#r114" x="188" y="2110"/><use href="#r114" x="194" y="2110"/><use href="#r105" x="200" y="2110"/><use href="#r50" x="206" y="2110"/><use href="#r48" x="212" y="2110"/><use href="#r50" x="218" y="2110"/><use href="#r48" x="224" y="2110"/><use href="#r41" x="230" y="2110"/><use href="#r100" x="313" y="2110"/><use href="#r103" x="319" y="2110"/><use href="#r118" x="325" y="2110"/><use href="#r49" x="331" y="2110"/><use href="#r57" x="337" y="2110"/><use href="#r56" x="343" y="2110"/><use href="#r110" x="349" y="2110"/><use href="#r54" x="355" y="2110"/><use href="#r55" x="361" y="2110"/><use href="#r40" x="373" y="2110"/><use href="#r80" x="379" y="2110"/><use href="#r97" x="385" y="2110"/><use href="#r114" x="391" y="2110"/><use href="#r107" x="397" y="2110"/><use href="#r50" x="403" y="2110"/><use href="#r48" x="409" y="2110"/><use href="#r49" x="415" y="2110"/><use href="#r48" x="421" y="2110"/><use href="#r41" x="427" y="2110"/><use href="#r110" x="92" y="2131"/><use href="#r115" x="98" y="2131"/><use href="#r118" x="104" y="2131"/><use href="#r52" x="110" y="2131"/><use href="#r50" x="116" y="2131"/><use href="#r48" x="122" y="2131"/><use href="#r54" x="128" y="2131"/><use href="#r53" x="134" y="2131"/><use href="#r56" x="140" y="2131"/><use href="#r50" x="146" y="2131"/><use href="#r40" x="158" y="2131"/><use href="#r103" x="164" y="2131"/><use href="#r110" x="170" y="2131"/><use href="#r111" x="176" y="2131"/><use href="#r109" x="182" y="2131"/><use href="#r65" x="188" y="2131"/><use href="#r68" x="194" y="2131"/><use href="#r83" x="200" y="2131"/><use href="#r116" x="206" y="2131"/><use href="#r114" x="212" y="2131"/><use href="#r117" x="218" y="2131"/><use href="#r99" x="224" y="2131"/><use href="#r116" x="230" y="2131"/><use href="#r117" x="236" y="2131"/><use href="#r114" x="242" y="2131"/><use href="#r97" x="248" y="2131"/><use href="#r108" x="254" y="2131"/><use href="#r86" x="260" y="2131"/><use href="#r97" x="266" y="2131"/><use href="#r114" x="272" y="2131"/><use href="#r105" x="278" y="2131"/><use href="#r97" x="284" y="2131"/><use href="#r110" x="290" y="2131"/><use href="#r116" x="296" y="2131"/><use href="#r115" x="302" y="2131"/><use href="#r41" x="308" y="2131"/><use href="#r110" x="106" y="2152"/><use href="#r115" x="112" y="2152"/><use href="#r118" x="118" y="2152"/><use href="#r54" x="124" y="2152"/><use href="#r49" x="130" y="2152"/><use href="#r52" x="136" y="2152"/><use href="#r51" x="142" y="2152"/><use href="#r54" x="148" y="2152"/><use href="#r52" x="154" y="2152"/><use href="#r52" x="160" y="2152"/><use href="#r40" x="172" y="2152"/><use href="#r66" x="178" y="2152"/><use href="#r121" x="184" y="2152"/><use href="#r114" x="190" y="2152"/><use href="#r115" x="196" y="2152"/><use href="#r107" x="202" y="2152"/><use href="#r97" x="208" y="2152"/><use href="#r66" x="214" y="2152"/><use href="#r105" x="220" y="2152"/><use href="#r115" x="226" y="2152"/><use href="#r104" x="232" y="2152"/><use href="#r111" x="238" y="2152"/><use href="#r112" x="244" y="2152"/><use href="#r50" x="250" y="2152"/><use href="#r48" x="256" y="2152"/><use href="#r50" x="262" y="2152"/><use href="#r50" x="268" y="2152"/><use href="#r41" x="274" y="2152"/><use href="#b82" x="60" y="2208"/><use href="#b101" x="67" y="2208"/><use href="#b102" x="74" y="2208"/><use href="#b83" x="81" y="2208"/><use href="#b101" x="88" y="2208"/><use href="#b113" x="95" y="2208"/><use href="#b71" x="109" y="2208"/><use href="#b101" x="116" y="2208"/><use href="#b110" x="123" y="2208"/><use href="#b101" x="130" y="2208"/><use href="#b115" x="137" y="2208"/><use href="#r79" x="306" y="2220"/><use href="#r82" x="312" y="2220"/><use href="#r53" x="318" y="2220"/><use href="#r50" x="324" y="2220"/><use href="#r78" x="330" y="2220"/><use href="#r53" x="336" y="2220"/><use href="#r124" x="342" y="2220"/><use href="#r78" x="348" y="2220"/><use href="#r77" x="354" y="2220"/><use href="#r95" x="360" y="2220"/><use href="#r48" x="366" y="2220"/><use href="#r48" x="372" y="2220"/><use href="#r49" x="378" y="2220"/><use href="#r48" x="384" y="2220"/><use href="#r48" x="390" y="2220"/><use href="#r49" x="396" y="2220"/><use href="#r57" x="402" y="2220"/><use href="#r50" x="408" y="2220"/><use href="#r50" x="414" y="2220"/><use href="#r79" x="851" y="2220"/><use href="#r82" x="857" y="2220"/><use href="#r53" x="863" y="2220"/><use href="#r50" x="869" y="2220"/><use href="#r78" x="875" y="2220"/><use href="#r49" x="881" y="2220"/></g></svg>
</div></body></html>
